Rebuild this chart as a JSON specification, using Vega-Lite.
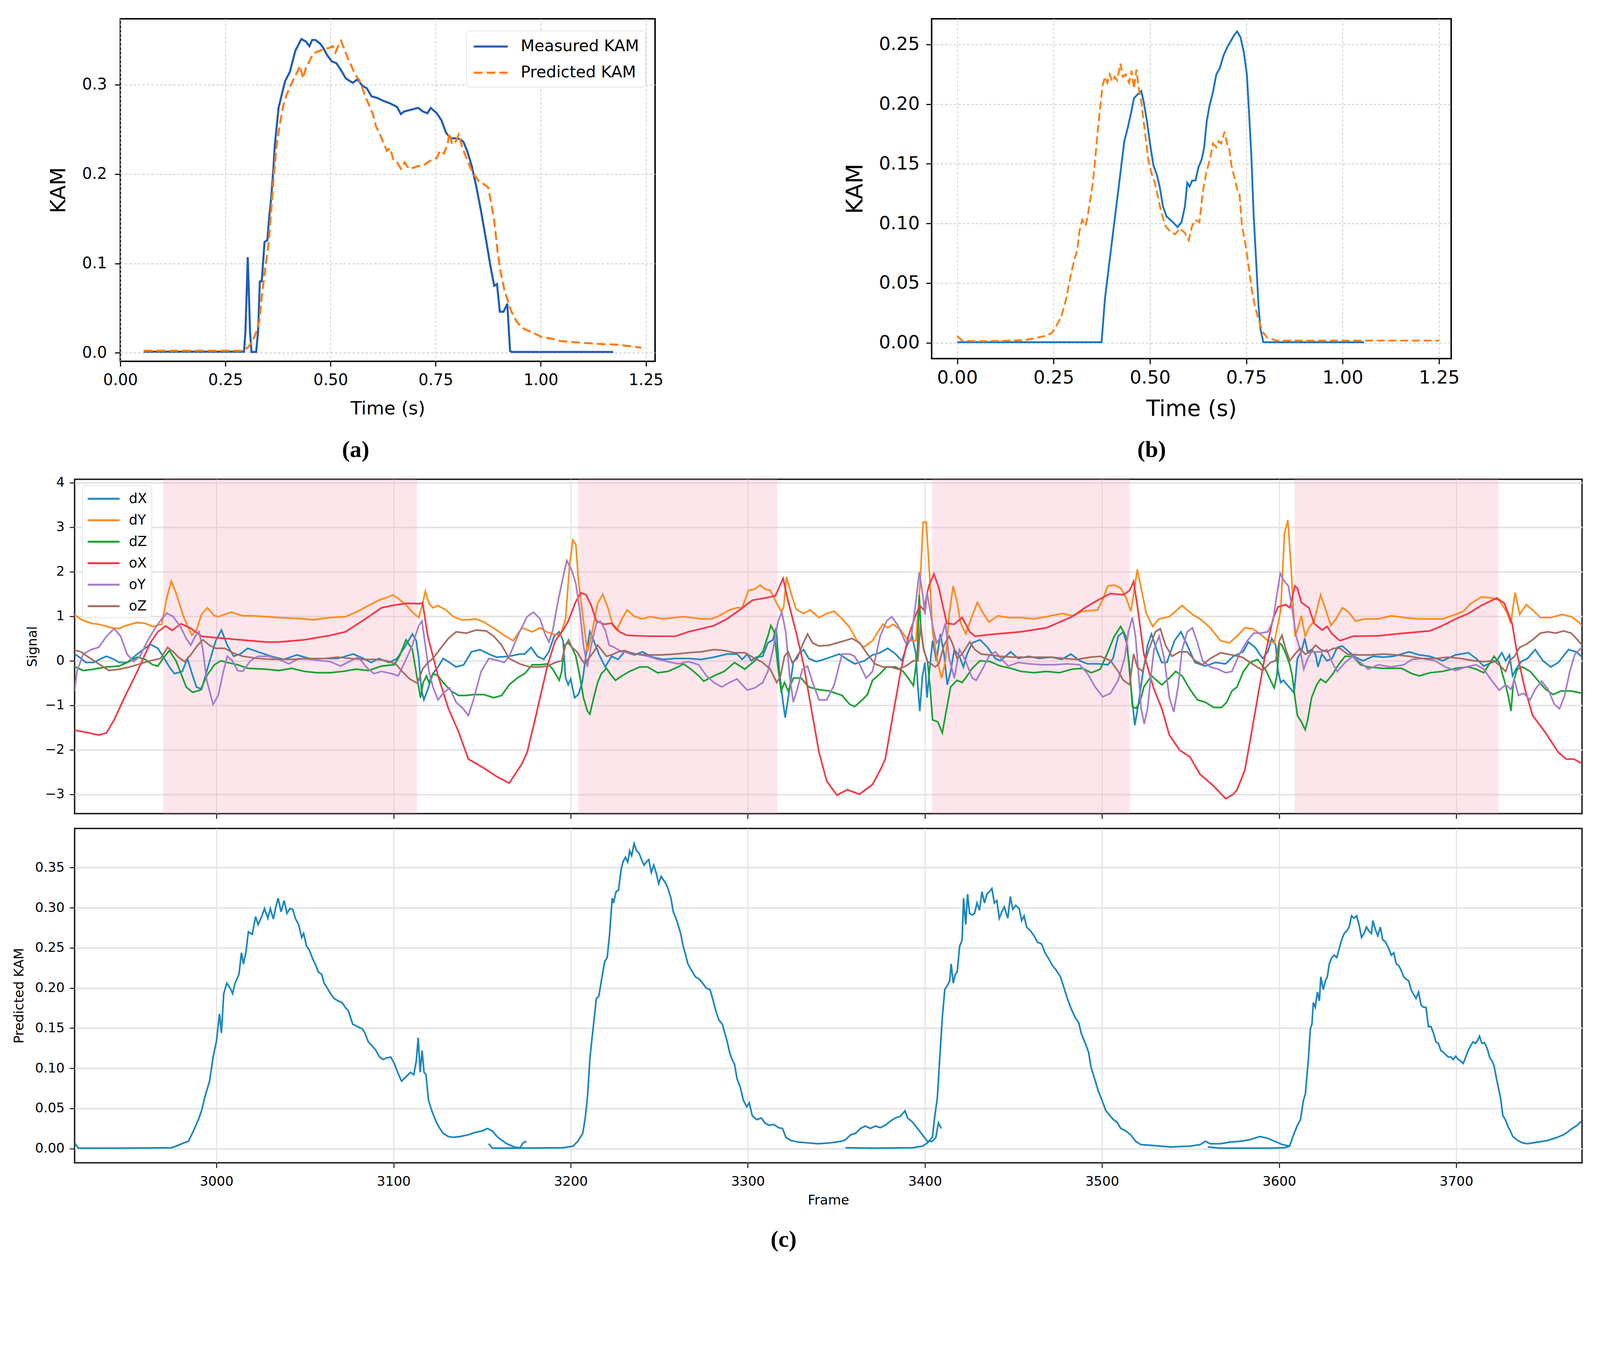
{
  "$schema": "https://vega.github.io/schema/vega-lite/v6.json",
  "background": "white",
  "padding": {"left": 30, "top": 46, "right": 5, "bottom": 5},
  "config": {
    "font": "DejaVu Sans",
    "view": {"stroke": "black", "strokeWidth": 3.75},
    "axis": {"domain": false, "labelColor": "black", "titleColor": "black", "tickColor": "black", "titleFontWeight": "normal", "labelFlush": false, "labelOverlap": false, "labelBound": false, "labelFont": "DejaVu Sans", "titleFont": "DejaVu Sans"},
    "title": {"font": "Liberation Serif", "fontSize": 60, "fontWeight": "bold", "color": "black"}
  },
  "datasets": {
    "a": [
      {"t":0.0555,"k":0.0014,"s":"Measured KAM"},{"t":0.2942,"k":0.0014,"s":"Measured KAM"},{"t":0.2975,"k":0.023,"s":"Measured KAM"},{"t":0.3031,"k":0.107,"s":"Measured KAM"},{"t":0.3086,"k":0.023,"s":"Measured KAM"},{"t":0.3119,"k":0.001,"s":"Measured KAM"},{"t":0.323,"k":0.001,"s":"Measured KAM"},{"t":0.3275,"k":0.023,"s":"Measured KAM"},{"t":0.3319,"k":0.08,"s":"Measured KAM"},{"t":0.3364,"k":0.08,"s":"Measured KAM"},{"t":0.343,"k":0.124,"s":"Measured KAM"},{"t":0.3497,"k":0.126,"s":"Measured KAM"},{"t":0.3541,"k":0.152,"s":"Measured KAM"},{"t":0.3586,"k":0.172,"s":"Measured KAM"},{"t":0.3641,"k":0.206,"s":"Measured KAM"},{"t":0.3675,"k":0.233,"s":"Measured KAM"},{"t":0.3719,"k":0.253,"s":"Measured KAM"},{"t":0.3763,"k":0.274,"s":"Measured KAM"},{"t":0.383,"k":0.287,"s":"Measured KAM"},{"t":0.3919,"k":0.304,"s":"Measured KAM"},{"t":0.403,"k":0.314,"s":"Measured KAM"},{"t":0.4163,"k":0.338,"s":"Measured KAM"},{"t":0.4307,"k":0.351,"s":"Measured KAM"},{"t":0.4418,"k":0.348,"s":"Measured KAM"},{"t":0.4496,"k":0.343,"s":"Measured KAM"},{"t":0.4563,"k":0.35,"s":"Measured KAM"},{"t":0.464,"k":0.35,"s":"Measured KAM"},{"t":0.4751,"k":0.346,"s":"Measured KAM"},{"t":0.4829,"k":0.341,"s":"Measured KAM"},{"t":0.4918,"k":0.333,"s":"Measured KAM"},{"t":0.5029,"k":0.326,"s":"Measured KAM"},{"t":0.514,"k":0.324,"s":"Measured KAM"},{"t":0.5251,"k":0.316,"s":"Measured KAM"},{"t":0.5362,"k":0.307,"s":"Measured KAM"},{"t":0.5528,"k":0.302,"s":"Measured KAM"},{"t":0.5639,"k":0.306,"s":"Measured KAM"},{"t":0.575,"k":0.299,"s":"Measured KAM"},{"t":0.5861,"k":0.296,"s":"Measured KAM"},{"t":0.5973,"k":0.287,"s":"Measured KAM"},{"t":0.6117,"k":0.285,"s":"Measured KAM"},{"t":0.625,"k":0.282,"s":"Measured KAM"},{"t":0.6417,"k":0.279,"s":"Measured KAM"},{"t":0.6583,"k":0.275,"s":"Measured KAM"},{"t":0.6672,"k":0.267,"s":"Measured KAM"},{"t":0.675,"k":0.27,"s":"Measured KAM"},{"t":0.6916,"k":0.272,"s":"Measured KAM"},{"t":0.7083,"k":0.274,"s":"Measured KAM"},{"t":0.7194,"k":0.27,"s":"Measured KAM"},{"t":0.7305,"k":0.268,"s":"Measured KAM"},{"t":0.7382,"k":0.274,"s":"Measured KAM"},{"t":0.7527,"k":0.268,"s":"Measured KAM"},{"t":0.7638,"k":0.26,"s":"Measured KAM"},{"t":0.7749,"k":0.246,"s":"Measured KAM"},{"t":0.786,"k":0.24,"s":"Measured KAM"},{"t":0.7971,"k":0.24,"s":"Measured KAM"},{"t":0.8082,"k":0.239,"s":"Measured KAM"},{"t":0.816,"k":0.236,"s":"Measured KAM"},{"t":0.8248,"k":0.226,"s":"Measured KAM"},{"t":0.8359,"k":0.209,"s":"Measured KAM"},{"t":0.847,"k":0.185,"s":"Measured KAM"},{"t":0.8581,"k":0.158,"s":"Measured KAM"},{"t":0.8692,"k":0.128,"s":"Measured KAM"},{"t":0.8803,"k":0.097,"s":"Measured KAM"},{"t":0.8892,"k":0.075,"s":"Measured KAM"},{"t":0.8959,"k":0.077,"s":"Measured KAM"},{"t":0.9025,"k":0.046,"s":"Measured KAM"},{"t":0.9114,"k":0.046,"s":"Measured KAM"},{"t":0.9203,"k":0.055,"s":"Measured KAM"},{"t":0.927,"k":0.002,"s":"Measured KAM"},{"t":0.9314,"k":0.001,"s":"Measured KAM"},{"t":1.1723,"k":0.001,"s":"Measured KAM"},
      {"t":0.0555,"k":0.0024,"s":"Predicted KAM"},{"t":0.292,"k":0.0024,"s":"Predicted KAM"},{"t":0.3031,"k":0.006,"s":"Predicted KAM"},{"t":0.3142,"k":0.0125,"s":"Predicted KAM"},{"t":0.323,"k":0.023,"s":"Predicted KAM"},{"t":0.3308,"k":0.036,"s":"Predicted KAM"},{"t":0.3364,"k":0.063,"s":"Predicted KAM"},{"t":0.3453,"k":0.097,"s":"Predicted KAM"},{"t":0.353,"k":0.124,"s":"Predicted KAM"},{"t":0.3586,"k":0.158,"s":"Predicted KAM"},{"t":0.3652,"k":0.199,"s":"Predicted KAM"},{"t":0.3719,"k":0.233,"s":"Predicted KAM"},{"t":0.3786,"k":0.253,"s":"Predicted KAM"},{"t":0.3863,"k":0.274,"s":"Predicted KAM"},{"t":0.3941,"k":0.287,"s":"Predicted KAM"},{"t":0.403,"k":0.297,"s":"Predicted KAM"},{"t":0.4119,"k":0.306,"s":"Predicted KAM"},{"t":0.4196,"k":0.313,"s":"Predicted KAM"},{"t":0.4274,"k":0.321,"s":"Predicted KAM"},{"t":0.4341,"k":0.307,"s":"Predicted KAM"},{"t":0.4418,"k":0.319,"s":"Predicted KAM"},{"t":0.4496,"k":0.326,"s":"Predicted KAM"},{"t":0.4563,"k":0.333,"s":"Predicted KAM"},{"t":0.464,"k":0.336,"s":"Predicted KAM"},{"t":0.4751,"k":0.338,"s":"Predicted KAM"},{"t":0.4862,"k":0.34,"s":"Predicted KAM"},{"t":0.4973,"k":0.341,"s":"Predicted KAM"},{"t":0.5051,"k":0.343,"s":"Predicted KAM"},{"t":0.5118,"k":0.336,"s":"Predicted KAM"},{"t":0.5195,"k":0.345,"s":"Predicted KAM"},{"t":0.5251,"k":0.349,"s":"Predicted KAM"},{"t":0.534,"k":0.338,"s":"Predicted KAM"},{"t":0.5417,"k":0.329,"s":"Predicted KAM"},{"t":0.5495,"k":0.321,"s":"Predicted KAM"},{"t":0.5584,"k":0.311,"s":"Predicted KAM"},{"t":0.5673,"k":0.306,"s":"Predicted KAM"},{"t":0.575,"k":0.297,"s":"Predicted KAM"},{"t":0.5828,"k":0.287,"s":"Predicted KAM"},{"t":0.5917,"k":0.277,"s":"Predicted KAM"},{"t":0.6006,"k":0.267,"s":"Predicted KAM"},{"t":0.6083,"k":0.253,"s":"Predicted KAM"},{"t":0.6161,"k":0.246,"s":"Predicted KAM"},{"t":0.625,"k":0.236,"s":"Predicted KAM"},{"t":0.6339,"k":0.226,"s":"Predicted KAM"},{"t":0.6417,"k":0.229,"s":"Predicted KAM"},{"t":0.6494,"k":0.216,"s":"Predicted KAM"},{"t":0.6583,"k":0.213,"s":"Predicted KAM"},{"t":0.6672,"k":0.206,"s":"Predicted KAM"},{"t":0.6761,"k":0.213,"s":"Predicted KAM"},{"t":0.6861,"k":0.206,"s":"Predicted KAM"},{"t":0.6972,"k":0.207,"s":"Predicted KAM"},{"t":0.7083,"k":0.209,"s":"Predicted KAM"},{"t":0.7194,"k":0.209,"s":"Predicted KAM"},{"t":0.7305,"k":0.213,"s":"Predicted KAM"},{"t":0.7416,"k":0.216,"s":"Predicted KAM"},{"t":0.7527,"k":0.218,"s":"Predicted KAM"},{"t":0.7604,"k":0.226,"s":"Predicted KAM"},{"t":0.7693,"k":0.223,"s":"Predicted KAM"},{"t":0.7782,"k":0.233,"s":"Predicted KAM"},{"t":0.7826,"k":0.246,"s":"Predicted KAM"},{"t":0.7893,"k":0.233,"s":"Predicted KAM"},{"t":0.7971,"k":0.236,"s":"Predicted KAM"},{"t":0.8049,"k":0.244,"s":"Predicted KAM"},{"t":0.8137,"k":0.229,"s":"Predicted KAM"},{"t":0.8248,"k":0.216,"s":"Predicted KAM"},{"t":0.8337,"k":0.206,"s":"Predicted KAM"},{"t":0.8415,"k":0.199,"s":"Predicted KAM"},{"t":0.8526,"k":0.192,"s":"Predicted KAM"},{"t":0.8637,"k":0.189,"s":"Predicted KAM"},{"t":0.8748,"k":0.185,"s":"Predicted KAM"},{"t":0.8803,"k":0.172,"s":"Predicted KAM"},{"t":0.8892,"k":0.148,"s":"Predicted KAM"},{"t":0.897,"k":0.114,"s":"Predicted KAM"},{"t":0.9047,"k":0.09,"s":"Predicted KAM"},{"t":0.9136,"k":0.07,"s":"Predicted KAM"},{"t":0.9225,"k":0.057,"s":"Predicted KAM"},{"t":0.9303,"k":0.046,"s":"Predicted KAM"},{"t":0.9414,"k":0.036,"s":"Predicted KAM"},{"t":0.9525,"k":0.029,"s":"Predicted KAM"},{"t":0.9636,"k":0.026,"s":"Predicted KAM"},{"t":0.9803,"k":0.023,"s":"Predicted KAM"},{"t":1.0024,"k":0.0176,"s":"Predicted KAM"},{"t":1.0246,"k":0.016,"s":"Predicted KAM"},{"t":1.0468,"k":0.0132,"s":"Predicted KAM"},{"t":1.0801,"k":0.0119,"s":"Predicted KAM"},{"t":1.1135,"k":0.0108,"s":"Predicted KAM"},{"t":1.1468,"k":0.0098,"s":"Predicted KAM"},{"t":1.1801,"k":0.0092,"s":"Predicted KAM"},{"t":1.2134,"k":0.0075,"s":"Predicted KAM"},{"t":1.2389,"k":0.0058,"s":"Predicted KAM"}
    ],
    "b": [
      {"t":0,"k":0.0005,"s":"Measured KAM"},{"t":0.3744,"k":0.0005,"s":"Measured KAM"},{"t":0.3832,"k":0.037,"s":"Measured KAM"},{"t":0.3957,"k":0.07,"s":"Measured KAM"},{"t":0.4083,"k":0.103,"s":"Measured KAM"},{"t":0.4209,"k":0.136,"s":"Measured KAM"},{"t":0.4334,"k":0.169,"s":"Measured KAM"},{"t":0.4422,"k":0.18,"s":"Measured KAM"},{"t":0.4523,"k":0.195,"s":"Measured KAM"},{"t":0.4585,"k":0.205,"s":"Measured KAM"},{"t":0.4673,"k":0.208,"s":"Measured KAM"},{"t":0.4774,"k":0.211,"s":"Measured KAM"},{"t":0.4837,"k":0.202,"s":"Measured KAM"},{"t":0.4925,"k":0.185,"s":"Measured KAM"},{"t":0.5,"k":0.167,"s":"Measured KAM"},{"t":0.5088,"k":0.149,"s":"Measured KAM"},{"t":0.5176,"k":0.141,"s":"Measured KAM"},{"t":0.5251,"k":0.131,"s":"Measured KAM"},{"t":0.5339,"k":0.114,"s":"Measured KAM"},{"t":0.5427,"k":0.106,"s":"Measured KAM"},{"t":0.5528,"k":0.103,"s":"Measured KAM"},{"t":0.5628,"k":0.1,"s":"Measured KAM"},{"t":0.5716,"k":0.097,"s":"Measured KAM"},{"t":0.5817,"k":0.101,"s":"Measured KAM"},{"t":0.5905,"k":0.114,"s":"Measured KAM"},{"t":0.5967,"k":0.134,"s":"Measured KAM"},{"t":0.603,"k":0.131,"s":"Measured KAM"},{"t":0.6093,"k":0.136,"s":"Measured KAM"},{"t":0.6181,"k":0.136,"s":"Measured KAM"},{"t":0.6256,"k":0.147,"s":"Measured KAM"},{"t":0.6344,"k":0.154,"s":"Measured KAM"},{"t":0.6407,"k":0.164,"s":"Measured KAM"},{"t":0.647,"k":0.185,"s":"Measured KAM"},{"t":0.6533,"k":0.197,"s":"Measured KAM"},{"t":0.6633,"k":0.21,"s":"Measured KAM"},{"t":0.6721,"k":0.225,"s":"Measured KAM"},{"t":0.6809,"k":0.23,"s":"Measured KAM"},{"t":0.691,"k":0.241,"s":"Measured KAM"},{"t":0.701,"k":0.248,"s":"Measured KAM"},{"t":0.7098,"k":0.253,"s":"Measured KAM"},{"t":0.7186,"k":0.258,"s":"Measured KAM"},{"t":0.7261,"k":0.261,"s":"Measured KAM"},{"t":0.7349,"k":0.256,"s":"Measured KAM"},{"t":0.7437,"k":0.243,"s":"Measured KAM"},{"t":0.7513,"k":0.225,"s":"Measured KAM"},{"t":0.7563,"k":0.197,"s":"Measured KAM"},{"t":0.7626,"k":0.159,"s":"Measured KAM"},{"t":0.7688,"k":0.108,"s":"Measured KAM"},{"t":0.7751,"k":0.07,"s":"Measured KAM"},{"t":0.7814,"k":0.032,"s":"Measured KAM"},{"t":0.7864,"k":0.012,"s":"Measured KAM"},{"t":0.794,"k":0.0005,"s":"Measured KAM"},{"t":1.0553,"k":0.0005,"s":"Measured KAM"},
      {"t":0,"k":0.0056,"s":"Predicted KAM"},{"t":0.0126,"k":0.0018,"s":"Predicted KAM"},{"t":0.0503,"k":0.0013,"s":"Predicted KAM"},{"t":0.1382,"k":0.0018,"s":"Predicted KAM"},{"t":0.1759,"k":0.0023,"s":"Predicted KAM"},{"t":0.201,"k":0.0038,"s":"Predicted KAM"},{"t":0.2261,"k":0.0056,"s":"Predicted KAM"},{"t":0.245,"k":0.008,"s":"Predicted KAM"},{"t":0.2575,"k":0.0145,"s":"Predicted KAM"},{"t":0.2701,"k":0.022,"s":"Predicted KAM"},{"t":0.2827,"k":0.037,"s":"Predicted KAM"},{"t":0.2952,"k":0.058,"s":"Predicted KAM"},{"t":0.304,"k":0.07,"s":"Predicted KAM"},{"t":0.3116,"k":0.078,"s":"Predicted KAM"},{"t":0.3166,"k":0.093,"s":"Predicted KAM"},{"t":0.3241,"k":0.103,"s":"Predicted KAM"},{"t":0.3329,"k":0.098,"s":"Predicted KAM"},{"t":0.3392,"k":0.108,"s":"Predicted KAM"},{"t":0.3455,"k":0.121,"s":"Predicted KAM"},{"t":0.3518,"k":0.134,"s":"Predicted KAM"},{"t":0.358,"k":0.154,"s":"Predicted KAM"},{"t":0.3643,"k":0.177,"s":"Predicted KAM"},{"t":0.3706,"k":0.197,"s":"Predicted KAM"},{"t":0.3769,"k":0.215,"s":"Predicted KAM"},{"t":0.3832,"k":0.223,"s":"Predicted KAM"},{"t":0.3894,"k":0.218,"s":"Predicted KAM"},{"t":0.3957,"k":0.225,"s":"Predicted KAM"},{"t":0.402,"k":0.219,"s":"Predicted KAM"},{"t":0.4083,"k":0.223,"s":"Predicted KAM"},{"t":0.4146,"k":0.22,"s":"Predicted KAM"},{"t":0.4234,"k":0.234,"s":"Predicted KAM"},{"t":0.4296,"k":0.223,"s":"Predicted KAM"},{"t":0.4372,"k":0.225,"s":"Predicted KAM"},{"t":0.446,"k":0.218,"s":"Predicted KAM"},{"t":0.4523,"k":0.228,"s":"Predicted KAM"},{"t":0.4585,"k":0.213,"s":"Predicted KAM"},{"t":0.4648,"k":0.229,"s":"Predicted KAM"},{"t":0.4711,"k":0.213,"s":"Predicted KAM"},{"t":0.4774,"k":0.202,"s":"Predicted KAM"},{"t":0.4837,"k":0.185,"s":"Predicted KAM"},{"t":0.4899,"k":0.169,"s":"Predicted KAM"},{"t":0.4962,"k":0.152,"s":"Predicted KAM"},{"t":0.505,"k":0.141,"s":"Predicted KAM"},{"t":0.5126,"k":0.134,"s":"Predicted KAM"},{"t":0.5214,"k":0.121,"s":"Predicted KAM"},{"t":0.5302,"k":0.108,"s":"Predicted KAM"},{"t":0.5402,"k":0.098,"s":"Predicted KAM"},{"t":0.5528,"k":0.093,"s":"Predicted KAM"},{"t":0.5653,"k":0.091,"s":"Predicted KAM"},{"t":0.5779,"k":0.096,"s":"Predicted KAM"},{"t":0.5905,"k":0.092,"s":"Predicted KAM"},{"t":0.6005,"k":0.086,"s":"Predicted KAM"},{"t":0.6093,"k":0.098,"s":"Predicted KAM"},{"t":0.6181,"k":0.103,"s":"Predicted KAM"},{"t":0.6281,"k":0.101,"s":"Predicted KAM"},{"t":0.6382,"k":0.129,"s":"Predicted KAM"},{"t":0.647,"k":0.144,"s":"Predicted KAM"},{"t":0.6558,"k":0.154,"s":"Predicted KAM"},{"t":0.6633,"k":0.167,"s":"Predicted KAM"},{"t":0.6721,"k":0.164,"s":"Predicted KAM"},{"t":0.6784,"k":0.169,"s":"Predicted KAM"},{"t":0.6847,"k":0.167,"s":"Predicted KAM"},{"t":0.6935,"k":0.177,"s":"Predicted KAM"},{"t":0.6997,"k":0.167,"s":"Predicted KAM"},{"t":0.706,"k":0.162,"s":"Predicted KAM"},{"t":0.7111,"k":0.149,"s":"Predicted KAM"},{"t":0.7186,"k":0.139,"s":"Predicted KAM"},{"t":0.7261,"k":0.129,"s":"Predicted KAM"},{"t":0.7324,"k":0.124,"s":"Predicted KAM"},{"t":0.7387,"k":0.098,"s":"Predicted KAM"},{"t":0.7475,"k":0.083,"s":"Predicted KAM"},{"t":0.7563,"k":0.063,"s":"Predicted KAM"},{"t":0.7638,"k":0.045,"s":"Predicted KAM"},{"t":0.7726,"k":0.03,"s":"Predicted KAM"},{"t":0.7814,"k":0.0196,"s":"Predicted KAM"},{"t":0.7915,"k":0.0094,"s":"Predicted KAM"},{"t":0.804,"k":0.0043,"s":"Predicted KAM"},{"t":0.8291,"k":0.0018,"s":"Predicted KAM"},{"t":1.25,"k":0.0018,"s":"Predicted KAM"}
    ],
    "bands": [{"b0":2970,"b1":3113.1},{"b0":3204.3,"b1":3316.6},{"b0":3403.9,"b1":3515.6},{"b0":3608.7,"b1":3723.8}],
    "sig": [
      {"s":"dX","f":2919.9,"v":0.15},{"s":"dX","f":2921.9,"v":0.10},{"s":"dX","f":2926.3,"v":-0.04},{"s":"dX","f":2930.6,"v":-0.04},{"s":"dX","f":2935,"v":0.05},{"s":"dX","f":2937.9,"v":0.10},{"s":"dX","f":2942.2,"v":0.03},{"s":"dX","f":2945.1,"v":-0.04},{"s":"dX","f":2949.5,"v":-0.04},{"s":"dX","f":2955.3,"v":0.15},{"s":"dX","f":2962.6,"v":0.37},{"s":"dX","f":2966.9,"v":0.28},{"s":"dX","f":2969.8,"v":0.10},{"s":"dX","f":2973.4,"v":-0.14},{"s":"dX","f":2976.3,"v":-0.29},{"s":"dX","f":2980.7,"v":-0.24},{"s":"dX","f":2983.6,"v":0.05},{"s":"dX","f":2985.8,"v":-0.24},{"s":"dX","f":2988.7,"v":-0.59},{"s":"dX","f":2991.6,"v":-0.64},{"s":"dX","f":2995.2,"v":-0.14},{"s":"dX","f":2999.6,"v":0.45},{"s":"dX","f":3002.8,"v":0.69},{"s":"dX","f":3006.1,"v":0.35},{"s":"dX","f":3009.7,"v":0.10},{"s":"dX","f":3013.4,"v":0.15},{"s":"dX","f":3017.7,"v":0.28},{"s":"dX","f":3023.5,"v":0.20},{"s":"dX","f":3030.8,"v":0.10},{"s":"dX","f":3038,"v":0.03},{"s":"dX","f":3045.3,"v":0.13},{"s":"dX","f":3052.5,"v":0.05},{"s":"dX","f":3059.8,"v":0.05},{"s":"dX","f":3068.5,"v":0.05},{"s":"dX","f":3077.2,"v":0.15},{"s":"dX","f":3083,"v":0.05},{"s":"dX","f":3087.4,"v":-0.04},{"s":"dX","f":3091.7,"v":0.05},{"s":"dX","f":3097.5,"v":-0.04},{"s":"dX","f":3101.9,"v":0.05},{"s":"dX","f":3106.2,"v":0.30},{"s":"dX","f":3110.6,"v":0.60},{"s":"dX","f":3112.8,"v":0.45},{"s":"dX","f":3114.2,"v":0.05},{"s":"dX","f":3115.7,"v":-0.64},{"s":"dX","f":3117.1,"v":-0.88},{"s":"dX","f":3119.3,"v":-0.64},{"s":"dX","f":3122.2,"v":-0.29},{"s":"dX","f":3125.1,"v":-0.14},{"s":"dX","f":3128,"v":0.05},{"s":"dX","f":3131.6,"v":-0.04},{"s":"dX","f":3135.3,"v":-0.14},{"s":"dX","f":3139.6,"v":-0.09},{"s":"dX","f":3144,"v":0.20},{"s":"dX","f":3148.7,"v":0.25},{"s":"dX","f":3153.8,"v":0.15},{"s":"dX","f":3158.1,"v":0.08},{"s":"dX","f":3165.3,"v":0.10},{"s":"dX","f":3171.1,"v":0.15},{"s":"dX","f":3174,"v":0.15},{"s":"dX","f":3177.6,"v":0.30},{"s":"dX","f":3181.2,"v":0.10},{"s":"dX","f":3184.8,"v":0.03},{"s":"dX","f":3187.7,"v":0.20},{"s":"dX","f":3190.6,"v":0.55},{"s":"dX","f":3193.5,"v":0.65},{"s":"dX","f":3195.7,"v":0.45},{"s":"dX","f":3197.1,"v":-0.39},{"s":"dX","f":3198.6,"v":-0.54},{"s":"dX","f":3200,"v":-0.41},{"s":"dX","f":3202.2,"v":-0.83},{"s":"dX","f":3204.3,"v":-0.76},{"s":"dX","f":3206.5,"v":-0.49},{"s":"dX","f":3208.7,"v":0.15},{"s":"dX","f":3210.8,"v":0.65},{"s":"dX","f":3213,"v":0.45},{"s":"dX","f":3215.9,"v":0.15},{"s":"dX","f":3219.5,"v":-0.14},{"s":"dX","f":3223.1,"v":0.10},{"s":"dX","f":3226.7,"v":0.03},{"s":"dX","f":3230.3,"v":0.20},{"s":"dX","f":3236.1,"v":0.13},{"s":"dX","f":3240.5,"v":0.20},{"s":"dX","f":3246.2,"v":0.08},{"s":"dX","f":3252,"v":0.03},{"s":"dX","f":3259.2,"v":0.05},{"s":"dX","f":3266.5,"v":0.05},{"s":"dX","f":3273.7,"v":0.03},{"s":"dX","f":3280.9,"v":0.08},{"s":"dX","f":3288.2,"v":0.15},{"s":"dX","f":3293.9,"v":0.15},{"s":"dX","f":3296.8,"v":0.03},{"s":"dX","f":3299.7,"v":0.15},{"s":"dX","f":3301.9,"v":0.0},{"s":"dX","f":3304.8,"v":0.08},{"s":"dX","f":3308.4,"v":0.10},{"s":"dX","f":3311.3,"v":0.40},{"s":"dX","f":3314.2,"v":0.47},{"s":"dX","f":3316,"v":0.74},{"s":"dX","f":3317.8,"v":-0.24},{"s":"dX","f":3319.7,"v":-0.88},{"s":"dX","f":3321.1,"v":-1.28},{"s":"dX","f":3322.8,"v":-0.83},{"s":"dX","f":3325.7,"v":-0.04},{"s":"dX","f":3328.6,"v":0.15},{"s":"dX","f":3331.5,"v":0.25},{"s":"dX","f":3334.4,"v":0.05},{"s":"dX","f":3338.7,"v":-0.02},{"s":"dX","f":3344.5,"v":0.05},{"s":"dX","f":3351.7,"v":0.15},{"s":"dX","f":3356.1,"v":0.03},{"s":"dX","f":3360.4,"v":-0.07},{"s":"dX","f":3366,"v":0.0},{"s":"dX","f":3370.4,"v":0.13},{"s":"dX","f":3374.7,"v":0.18},{"s":"dX","f":3379,"v":0.28},{"s":"dX","f":3383.4,"v":0.15},{"s":"dX","f":3387,"v":0.0},{"s":"dX","f":3389.9,"v":0.35},{"s":"dX","f":3392.8,"v":0.55},{"s":"dX","f":3394.9,"v":0.15},{"s":"dX","f":3396,"v":-0.59},{"s":"dX","f":3397.1,"v":-1.13},{"s":"dX","f":3398.6,"v":-0.34},{"s":"dX","f":3400,"v":-0.04},{"s":"dX","f":3401.2,"v":-0.83},{"s":"dX","f":3402.9,"v":-0.09},{"s":"dX","f":3404.3,"v":0.45},{"s":"dX","f":3406.5,"v":0.0},{"s":"dX","f":3408.7,"v":0.60},{"s":"dX","f":3410.8,"v":0.15},{"s":"dX","f":3412.6,"v":-0.54},{"s":"dX","f":3414.5,"v":-0.24},{"s":"dX","f":3416.6,"v":0.25},{"s":"dX","f":3419.5,"v":0.10},{"s":"dX","f":3421.7,"v":-0.14},{"s":"dX","f":3423.8,"v":0.15},{"s":"dX","f":3426.7,"v":0.40},{"s":"dX","f":3431.1,"v":0.47},{"s":"dX","f":3435.4,"v":0.30},{"s":"dX","f":3439.7,"v":0.05},{"s":"dX","f":3442.6,"v":0.0},{"s":"dX","f":3448.4,"v":0.20},{"s":"dX","f":3452.7,"v":0.05},{"s":"dX","f":3458.5,"v":0.10},{"s":"dX","f":3464.3,"v":0.05},{"s":"dX","f":3471.5,"v":0.08},{"s":"dX","f":3477.3,"v":0.03},{"s":"dX","f":3482.4,"v":0.15},{"s":"dX","f":3487.4,"v":0.0},{"s":"dX","f":3491.8,"v":-0.07},{"s":"dX","f":3497.5,"v":-0.07},{"s":"dX","f":3503.3,"v":-0.09},{"s":"dX","f":3506.2,"v":0.05},{"s":"dX","f":3509.1,"v":0.55},{"s":"dX","f":3512,"v":0.65},{"s":"dX","f":3514.2,"v":0.35},{"s":"dX","f":3516.3,"v":-0.59},{"s":"dX","f":3518.5,"v":-1.45},{"s":"dX","f":3520.7,"v":-0.93},{"s":"dX","f":3522.8,"v":-0.34},{"s":"dX","f":3525.7,"v":0.35},{"s":"dX","f":3527.9,"v":0.60},{"s":"dX","f":3530.8,"v":0.25},{"s":"dX","f":3533.7,"v":-0.04},{"s":"dX","f":3536.6,"v":-0.04},{"s":"dX","f":3540.9,"v":0.45},{"s":"dX","f":3544.5,"v":0.65},{"s":"dX","f":3548.1,"v":0.35},{"s":"dX","f":3552.5,"v":-0.04},{"s":"dX","f":3558.2,"v":-0.12},{"s":"dX","f":3564,"v":-0.04},{"s":"dX","f":3569.8,"v":-0.07},{"s":"dX","f":3574.1,"v":0.10},{"s":"dX","f":3579.6,"v":0.20},{"s":"dX","f":3582.7,"v":0.42},{"s":"dX","f":3586.4,"v":0.30},{"s":"dX","f":3590.7,"v":0.05},{"s":"dX","f":3593.6,"v":0.20},{"s":"dX","f":3595.8,"v":0.50},{"s":"dX","f":3598,"v":0.35},{"s":"dX","f":3599.4,"v":-0.24},{"s":"dX","f":3600.9,"v":-0.49},{"s":"dX","f":3602.3,"v":-0.44},{"s":"dX","f":3604.5,"v":-0.54},{"s":"dX","f":3606.7,"v":-0.64},{"s":"dX","f":3608.4,"v":-0.73},{"s":"dX","f":3610.3,"v":0.05},{"s":"dX","f":3612.5,"v":0.20},{"s":"dX","f":3614.4,"v":0.50},{"s":"dX","f":3616.1,"v":0.20},{"s":"dX","f":3618.3,"v":0.25},{"s":"dX","f":3620.5,"v":0.15},{"s":"dX","f":3621.9,"v":-0.14},{"s":"dX","f":3624.1,"v":0.15},{"s":"dX","f":3627,"v":0.0},{"s":"dX","f":3629.9,"v":0.05},{"s":"dX","f":3632.8,"v":0.30},{"s":"dX","f":3635.7,"v":0.33},{"s":"dX","f":3638.6,"v":0.23},{"s":"dX","f":3643,"v":0.08},{"s":"dX","f":3647.3,"v":0.0},{"s":"dX","f":3653.1,"v":0.10},{"s":"dX","f":3658.9,"v":0.08},{"s":"dX","f":3664.7,"v":0.10},{"s":"dX","f":3673.4,"v":0.20},{"s":"dX","f":3679.2,"v":0.13},{"s":"dX","f":3685,"v":0.10},{"s":"dX","f":3692.3,"v":0.0},{"s":"dX","f":3699.6,"v":0.13},{"s":"dX","f":3706.8,"v":0.18},{"s":"dX","f":3711.2,"v":0.05},{"s":"dX","f":3715.5,"v":-0.12},{"s":"dX","f":3719.9,"v":-0.04},{"s":"dX","f":3722.8,"v":0.0},{"s":"dX","f":3725.7,"v":0.18},{"s":"dX","f":3727.9,"v":0.0},{"s":"dX","f":3730,"v":0.13},{"s":"dX","f":3731.8,"v":-0.34},{"s":"dX","f":3733.7,"v":-0.19},{"s":"dX","f":3736.6,"v":-0.02},{"s":"dX","f":3740.2,"v":0.05},{"s":"dX","f":3744.6,"v":0.25},{"s":"dX","f":3748.9,"v":0.0},{"s":"dX","f":3753.3,"v":-0.14},{"s":"dX","f":3757.6,"v":-0.04},{"s":"dX","f":3763.4,"v":0.25},{"s":"dX","f":3767.8,"v":0.20},{"s":"dX","f":3771,"v":0.08},
      {"s":"dY","f":2919,"v":1.06},{"s":"dY","f":2923.4,"v":0.93},{"s":"dY","f":2929.2,"v":0.84},{"s":"dY","f":2933.5,"v":0.82},{"s":"dY","f":2940.8,"v":0.74},{"s":"dY","f":2945.1,"v":0.72},{"s":"dY","f":2948,"v":0.78},{"s":"dY","f":2955.3,"v":0.86},{"s":"dY","f":2959.7,"v":0.84},{"s":"dY","f":2964,"v":0.77},{"s":"dY","f":2969.1,"v":0.82},{"s":"dY","f":2972,"v":1.43},{"s":"dY","f":2974.5,"v":1.79},{"s":"dY","f":2977.1,"v":1.53},{"s":"dY","f":2981.4,"v":0.99},{"s":"dY","f":2986.1,"v":0.57},{"s":"dY","f":2988.7,"v":0.69},{"s":"dY","f":2991.6,"v":1.04},{"s":"dY","f":2994.8,"v":1.19},{"s":"dY","f":2998.8,"v":1.01},{"s":"dY","f":3001,"v":0.99},{"s":"dY","f":3008.3,"v":1.09},{"s":"dY","f":3014.8,"v":1.01},{"s":"dY","f":3020.6,"v":1.01},{"s":"dY","f":3035.1,"v":0.97},{"s":"dY","f":3049.6,"v":0.94},{"s":"dY","f":3054.7,"v":0.92},{"s":"dY","f":3064.2,"v":0.97},{"s":"dY","f":3072.9,"v":0.99},{"s":"dY","f":3078.7,"v":1.09},{"s":"dY","f":3085.9,"v":1.24},{"s":"dY","f":3091.7,"v":1.36},{"s":"dY","f":3095.4,"v":1.41},{"s":"dY","f":3099.7,"v":1.48},{"s":"dY","f":3106.2,"v":1.29},{"s":"dY","f":3110.6,"v":1.09},{"s":"dY","f":3114.2,"v":0.97},{"s":"dY","f":3116.1,"v":1.24},{"s":"dY","f":3117.9,"v":1.56},{"s":"dY","f":3120,"v":1.29},{"s":"dY","f":3122.2,"v":1.19},{"s":"dY","f":3125.1,"v":1.24},{"s":"dY","f":3129.5,"v":1.14},{"s":"dY","f":3133.8,"v":0.99},{"s":"dY","f":3138.2,"v":0.92},{"s":"dY","f":3142.2,"v":0.92},{"s":"dY","f":3146.5,"v":0.94},{"s":"dY","f":3150.9,"v":0.87},{"s":"dY","f":3158.1,"v":0.69},{"s":"dY","f":3162.4,"v":0.57},{"s":"dY","f":3167.5,"v":0.45},{"s":"dY","f":3172.5,"v":0.74},{"s":"dY","f":3178.3,"v":0.65},{"s":"dY","f":3182.7,"v":0.74},{"s":"dY","f":3186.3,"v":0.65},{"s":"dY","f":3189.9,"v":0.60},{"s":"dY","f":3194.2,"v":0.57},{"s":"dY","f":3197.1,"v":0.94},{"s":"dY","f":3199.3,"v":2.12},{"s":"dY","f":3201.2,"v":2.71},{"s":"dY","f":3202.9,"v":2.61},{"s":"dY","f":3204.3,"v":1.83},{"s":"dY","f":3207.2,"v":0.89},{"s":"dY","f":3209.4,"v":0.20},{"s":"dY","f":3211.6,"v":0.55},{"s":"dY","f":3215.2,"v":1.29},{"s":"dY","f":3218.1,"v":1.49},{"s":"dY","f":3221,"v":1.19},{"s":"dY","f":3223.8,"v":0.79},{"s":"dY","f":3226,"v":0.69},{"s":"dY","f":3228.9,"v":0.94},{"s":"dY","f":3231.8,"v":1.14},{"s":"dY","f":3236.1,"v":0.99},{"s":"dY","f":3240.5,"v":0.94},{"s":"dY","f":3244.8,"v":0.99},{"s":"dY","f":3252,"v":0.94},{"s":"dY","f":3263.6,"v":0.99},{"s":"dY","f":3273.7,"v":0.94},{"s":"dY","f":3279.5,"v":0.94},{"s":"dY","f":3283.8,"v":1.01},{"s":"dY","f":3289.6,"v":1.14},{"s":"dY","f":3293.9,"v":1.19},{"s":"dY","f":3296.8,"v":1.19},{"s":"dY","f":3300.4,"v":1.58},{"s":"dY","f":3304,"v":1.61},{"s":"dY","f":3306.9,"v":1.70},{"s":"dY","f":3309.8,"v":1.61},{"s":"dY","f":3312.7,"v":1.58},{"s":"dY","f":3316.3,"v":1.29},{"s":"dY","f":3318.8,"v":1.11},{"s":"dY","f":3320.2,"v":1.19},{"s":"dY","f":3321.8,"v":1.88},{"s":"dY","f":3324.3,"v":1.53},{"s":"dY","f":3327.2,"v":1.16},{"s":"dY","f":3331.5,"v":1.06},{"s":"dY","f":3335.1,"v":1.14},{"s":"dY","f":3340.2,"v":0.97},{"s":"dY","f":3344.5,"v":1.06},{"s":"dY","f":3348.8,"v":1.11},{"s":"dY","f":3353.2,"v":0.94},{"s":"dY","f":3357.5,"v":0.75},{"s":"dY","f":3361.7,"v":0.45},{"s":"dY","f":3365.3,"v":0.30},{"s":"dY","f":3370.4,"v":0.45},{"s":"dY","f":3376.2,"v":0.82},{"s":"dY","f":3379,"v":0.74},{"s":"dY","f":3381.9,"v":0.82},{"s":"dY","f":3386.3,"v":0.69},{"s":"dY","f":3390.6,"v":0.45},{"s":"dY","f":3394.9,"v":0.45},{"s":"dY","f":3397.1,"v":1.63},{"s":"dY","f":3399,"v":3.11},{"s":"dY","f":3400.7,"v":3.12},{"s":"dY","f":3402.5,"v":2.02},{"s":"dY","f":3404.3,"v":0.65},{"s":"dY","f":3407.2,"v":-0.04},{"s":"dY","f":3409.4,"v":-0.39},{"s":"dY","f":3411.6,"v":0.0},{"s":"dY","f":3413.7,"v":1.04},{"s":"dY","f":3415.9,"v":1.68},{"s":"dY","f":3418.1,"v":1.33},{"s":"dY","f":3420.2,"v":0.84},{"s":"dY","f":3423.1,"v":0.60},{"s":"dY","f":3426,"v":0.94},{"s":"dY","f":3429.6,"v":1.31},{"s":"dY","f":3432.5,"v":1.09},{"s":"dY","f":3436.1,"v":0.87},{"s":"dY","f":3441.2,"v":1.01},{"s":"dY","f":3447,"v":0.97},{"s":"dY","f":3454.2,"v":0.97},{"s":"dY","f":3461.4,"v":0.94},{"s":"dY","f":3468.6,"v":0.99},{"s":"dY","f":3477.3,"v":1.06},{"s":"dY","f":3483.1,"v":1.01},{"s":"dY","f":3488.9,"v":1.11},{"s":"dY","f":3497.5,"v":1.14},{"s":"dY","f":3500.4,"v":1.38},{"s":"dY","f":3503.3,"v":1.68},{"s":"dY","f":3506.9,"v":1.70},{"s":"dY","f":3510.5,"v":1.63},{"s":"dY","f":3513.4,"v":1.43},{"s":"dY","f":3516.3,"v":1.11},{"s":"dY","f":3518.5,"v":1.68},{"s":"dY","f":3519.9,"v":2.05},{"s":"dY","f":3522.1,"v":1.63},{"s":"dY","f":3525,"v":1.06},{"s":"dY","f":3528.6,"v":0.77},{"s":"dY","f":3532.2,"v":0.94},{"s":"dY","f":3538,"v":0.99},{"s":"dY","f":3540.9,"v":1.09},{"s":"dY","f":3545.2,"v":1.24},{"s":"dY","f":3551,"v":1.04},{"s":"dY","f":3555.3,"v":0.94},{"s":"dY","f":3561.1,"v":0.74},{"s":"dY","f":3566.9,"v":0.45},{"s":"dY","f":3571.8,"v":0.40},{"s":"dY","f":3576.2,"v":0.55},{"s":"dY","f":3580.6,"v":0.74},{"s":"dY","f":3584.9,"v":0.72},{"s":"dY","f":3589.3,"v":0.60},{"s":"dY","f":3593.6,"v":0.45},{"s":"dY","f":3597.2,"v":0.40},{"s":"dY","f":3600.9,"v":1.14},{"s":"dY","f":3603,"v":2.86},{"s":"dY","f":3604.9,"v":3.16},{"s":"dY","f":3606.7,"v":2.12},{"s":"dY","f":3608.9,"v":0.55},{"s":"dY","f":3610.3,"v":0.69},{"s":"dY","f":3612.5,"v":1.01},{"s":"dY","f":3614.7,"v":0.55},{"s":"dY","f":3616.8,"v":0.74},{"s":"dY","f":3619.7,"v":0.89},{"s":"dY","f":3623.4,"v":1.48},{"s":"dY","f":3626.3,"v":1.14},{"s":"dY","f":3629.2,"v":0.79},{"s":"dY","f":3632.1,"v":0.94},{"s":"dY","f":3635.7,"v":1.19},{"s":"dY","f":3639.3,"v":1.09},{"s":"dY","f":3643,"v":0.89},{"s":"dY","f":3648.8,"v":0.94},{"s":"dY","f":3656,"v":0.94},{"s":"dY","f":3663.3,"v":1.01},{"s":"dY","f":3670.5,"v":0.97},{"s":"dY","f":3677.8,"v":0.94},{"s":"dY","f":3685,"v":0.94},{"s":"dY","f":3692.3,"v":0.94},{"s":"dY","f":3699.6,"v":1.04},{"s":"dY","f":3703.9,"v":1.11},{"s":"dY","f":3708.3,"v":1.29},{"s":"dY","f":3714.1,"v":1.43},{"s":"dY","f":3719.9,"v":1.41},{"s":"dY","f":3724.2,"v":1.36},{"s":"dY","f":3728.6,"v":1.09},{"s":"dY","f":3730.8,"v":0.84},{"s":"dY","f":3733.2,"v":1.53},{"s":"dY","f":3735.8,"v":1.04},{"s":"dY","f":3739.5,"v":1.26},{"s":"dY","f":3743.1,"v":1.14},{"s":"dY","f":3747.5,"v":0.97},{"s":"dY","f":3753.3,"v":0.97},{"s":"dY","f":3759.8,"v":1.04},{"s":"dY","f":3764.9,"v":0.99},{"s":"dY","f":3768.5,"v":0.89},{"s":"dY","f":3771,"v":0.79},
      {"s":"dZ","f":2919,"v":-0.12},{"s":"dZ","f":2924.8,"v":-0.22},{"s":"dZ","f":2930.6,"v":-0.19},{"s":"dZ","f":2937.9,"v":-0.14},{"s":"dZ","f":2945.1,"v":-0.12},{"s":"dZ","f":2949.5,"v":-0.04},{"s":"dZ","f":2955.3,"v":0.08},{"s":"dZ","f":2959.7,"v":0.03},{"s":"dZ","f":2964,"v":-0.09},{"s":"dZ","f":2966.9,"v":-0.12},{"s":"dZ","f":2969.8,"v":0.05},{"s":"dZ","f":2973.4,"v":0.23},{"s":"dZ","f":2977.1,"v":0.0},{"s":"dZ","f":2980,"v":-0.29},{"s":"dZ","f":2982.9,"v":-0.59},{"s":"dZ","f":2986.5,"v":-0.71},{"s":"dZ","f":2990.9,"v":-0.66},{"s":"dZ","f":2994.5,"v":-0.34},{"s":"dZ","f":2998.8,"v":-0.09},{"s":"dZ","f":3002.5,"v":0.0},{"s":"dZ","f":3006.1,"v":-0.04},{"s":"dZ","f":3011.9,"v":-0.09},{"s":"dZ","f":3017.7,"v":-0.17},{"s":"dZ","f":3027.9,"v":-0.19},{"s":"dZ","f":3035.1,"v":-0.22},{"s":"dZ","f":3042.4,"v":-0.17},{"s":"dZ","f":3049.6,"v":-0.24},{"s":"dZ","f":3056.8,"v":-0.27},{"s":"dZ","f":3064.2,"v":-0.27},{"s":"dZ","f":3071.4,"v":-0.24},{"s":"dZ","f":3078.7,"v":-0.19},{"s":"dZ","f":3085.9,"v":-0.22},{"s":"dZ","f":3093.2,"v":-0.12},{"s":"dZ","f":3100.4,"v":-0.09},{"s":"dZ","f":3103.3,"v":0.10},{"s":"dZ","f":3107,"v":0.47},{"s":"dZ","f":3110.6,"v":0.25},{"s":"dZ","f":3113.5,"v":-0.44},{"s":"dZ","f":3115.2,"v":-0.83},{"s":"dZ","f":3116.7,"v":-0.49},{"s":"dZ","f":3118.6,"v":-0.34},{"s":"dZ","f":3120,"v":-0.49},{"s":"dZ","f":3122.2,"v":-0.29},{"s":"dZ","f":3125.1,"v":-0.34},{"s":"dZ","f":3128,"v":-0.49},{"s":"dZ","f":3132.4,"v":-0.68},{"s":"dZ","f":3136.7,"v":-0.78},{"s":"dZ","f":3141.1,"v":-0.78},{"s":"dZ","f":3145.1,"v":-0.76},{"s":"dZ","f":3150.9,"v":-0.76},{"s":"dZ","f":3156.6,"v":-0.83},{"s":"dZ","f":3161,"v":-0.78},{"s":"dZ","f":3165.3,"v":-0.54},{"s":"dZ","f":3169.7,"v":-0.39},{"s":"dZ","f":3174,"v":-0.29},{"s":"dZ","f":3178.3,"v":-0.09},{"s":"dZ","f":3182.7,"v":-0.09},{"s":"dZ","f":3187,"v":-0.07},{"s":"dZ","f":3189.9,"v":-0.19},{"s":"dZ","f":3193.5,"v":-0.44},{"s":"dZ","f":3194.9,"v":-0.24},{"s":"dZ","f":3196.4,"v":0.35},{"s":"dZ","f":3198.6,"v":0.40},{"s":"dZ","f":3200.7,"v":0.30},{"s":"dZ","f":3202.9,"v":0.10},{"s":"dZ","f":3205.1,"v":-0.34},{"s":"dZ","f":3207.2,"v":-0.83},{"s":"dZ","f":3209.4,"v":-1.13},{"s":"dZ","f":3210.8,"v":-1.20},{"s":"dZ","f":3213,"v":-0.83},{"s":"dZ","f":3215.2,"v":-0.49},{"s":"dZ","f":3217.3,"v":-0.29},{"s":"dZ","f":3220.2,"v":-0.17},{"s":"dZ","f":3223.1,"v":-0.34},{"s":"dZ","f":3225.3,"v":-0.44},{"s":"dZ","f":3228.9,"v":-0.34},{"s":"dZ","f":3233.2,"v":-0.24},{"s":"dZ","f":3239,"v":-0.14},{"s":"dZ","f":3243.4,"v":-0.14},{"s":"dZ","f":3249.1,"v":-0.27},{"s":"dZ","f":3254.9,"v":-0.24},{"s":"dZ","f":3260.7,"v":-0.14},{"s":"dZ","f":3263.6,"v":-0.07},{"s":"dZ","f":3267.9,"v":-0.19},{"s":"dZ","f":3272.3,"v":-0.34},{"s":"dZ","f":3275.1,"v":-0.46},{"s":"dZ","f":3280.9,"v":-0.34},{"s":"dZ","f":3286.7,"v":-0.24},{"s":"dZ","f":3292.5,"v":-0.04},{"s":"dZ","f":3298.3,"v":-0.19},{"s":"dZ","f":3304,"v":0.0},{"s":"dZ","f":3308.4,"v":0.20},{"s":"dZ","f":3311.3,"v":0.55},{"s":"dZ","f":3313,"v":0.79},{"s":"dZ","f":3314.9,"v":0.65},{"s":"dZ","f":3317,"v":-0.14},{"s":"dZ","f":3318.8,"v":-0.68},{"s":"dZ","f":3320.7,"v":-0.49},{"s":"dZ","f":3322.8,"v":-0.68},{"s":"dZ","f":3325.7,"v":-0.39},{"s":"dZ","f":3330.1,"v":-0.39},{"s":"dZ","f":3334.4,"v":-0.59},{"s":"dZ","f":3338.7,"v":-0.64},{"s":"dZ","f":3346,"v":-0.68},{"s":"dZ","f":3353.2,"v":-0.78},{"s":"dZ","f":3357.5,"v":-0.98},{"s":"dZ","f":3360.3,"v":-1.03},{"s":"dZ","f":3364.6,"v":-0.88},{"s":"dZ","f":3367.5,"v":-0.76},{"s":"dZ","f":3370.4,"v":-0.44},{"s":"dZ","f":3374.7,"v":-0.29},{"s":"dZ","f":3378.3,"v":-0.14},{"s":"dZ","f":3383.4,"v":-0.14},{"s":"dZ","f":3387.7,"v":-0.24},{"s":"dZ","f":3390.6,"v":-0.39},{"s":"dZ","f":3393.5,"v":-0.56},{"s":"dZ","f":3395.7,"v":0.15},{"s":"dZ","f":3396.8,"v":1.48},{"s":"dZ","f":3397.8,"v":0.65},{"s":"dZ","f":3399.3,"v":0.25},{"s":"dZ","f":3401.4,"v":0.0},{"s":"dZ","f":3402.9,"v":-0.59},{"s":"dZ","f":3404.3,"v":-1.33},{"s":"dZ","f":3407.2,"v":-1.37},{"s":"dZ","f":3409.8,"v":-1.62},{"s":"dZ","f":3412.3,"v":-1.07},{"s":"dZ","f":3414.5,"v":-0.59},{"s":"dZ","f":3418.1,"v":-0.44},{"s":"dZ","f":3421,"v":-0.49},{"s":"dZ","f":3423.8,"v":-0.34},{"s":"dZ","f":3426.7,"v":-0.17},{"s":"dZ","f":3431.1,"v":0.0},{"s":"dZ","f":3436.8,"v":-0.02},{"s":"dZ","f":3442.6,"v":-0.12},{"s":"dZ","f":3448.4,"v":-0.17},{"s":"dZ","f":3454.2,"v":-0.24},{"s":"dZ","f":3461.4,"v":-0.27},{"s":"dZ","f":3468.6,"v":-0.24},{"s":"dZ","f":3475.9,"v":-0.27},{"s":"dZ","f":3483.1,"v":-0.19},{"s":"dZ","f":3488.9,"v":-0.17},{"s":"dZ","f":3493.9,"v":-0.27},{"s":"dZ","f":3499,"v":-0.19},{"s":"dZ","f":3503.3,"v":0.20},{"s":"dZ","f":3506.9,"v":0.55},{"s":"dZ","f":3510.5,"v":0.77},{"s":"dZ","f":3513.4,"v":0.55},{"s":"dZ","f":3515.6,"v":-0.19},{"s":"dZ","f":3517.1,"v":-1.03},{"s":"dZ","f":3519.2,"v":-1.07},{"s":"dZ","f":3521.4,"v":-0.93},{"s":"dZ","f":3523.6,"v":-0.59},{"s":"dZ","f":3527.9,"v":-0.34},{"s":"dZ","f":3533.7,"v":-0.54},{"s":"dZ","f":3538,"v":-0.39},{"s":"dZ","f":3541.6,"v":-0.24},{"s":"dZ","f":3545.2,"v":-0.34},{"s":"dZ","f":3549.6,"v":-0.64},{"s":"dZ","f":3553.9,"v":-0.88},{"s":"dZ","f":3558.2,"v":-0.93},{"s":"dZ","f":3563.1,"v":-1.05},{"s":"dZ","f":3567.5,"v":-1.05},{"s":"dZ","f":3570.4,"v":-0.93},{"s":"dZ","f":3573.3,"v":-0.68},{"s":"dZ","f":3576.2,"v":-0.59},{"s":"dZ","f":3579.8,"v":-0.24},{"s":"dZ","f":3583.5,"v":-0.04},{"s":"dZ","f":3587.8,"v":0.03},{"s":"dZ","f":3592.2,"v":-0.19},{"s":"dZ","f":3595.1,"v":-0.44},{"s":"dZ","f":3597.2,"v":-0.61},{"s":"dZ","f":3598.7,"v":-0.34},{"s":"dZ","f":3600.1,"v":0.40},{"s":"dZ","f":3601.6,"v":0.35},{"s":"dZ","f":3603.8,"v":0.15},{"s":"dZ","f":3606,"v":-0.09},{"s":"dZ","f":3607.4,"v":-0.34},{"s":"dZ","f":3608.9,"v":-0.83},{"s":"dZ","f":3610.3,"v":-1.23},{"s":"dZ","f":3612.5,"v":-1.37},{"s":"dZ","f":3614.7,"v":-1.55},{"s":"dZ","f":3616.1,"v":-1.33},{"s":"dZ","f":3618.3,"v":-0.83},{"s":"dZ","f":3621.2,"v":-0.54},{"s":"dZ","f":3623.4,"v":-0.41},{"s":"dZ","f":3626.3,"v":-0.49},{"s":"dZ","f":3629.9,"v":-0.32},{"s":"dZ","f":3633.5,"v":-0.09},{"s":"dZ","f":3637.2,"v":0.10},{"s":"dZ","f":3641.5,"v":0.10},{"s":"dZ","f":3645.9,"v":-0.09},{"s":"dZ","f":3650.2,"v":-0.14},{"s":"dZ","f":3658.9,"v":-0.17},{"s":"dZ","f":3669.1,"v":-0.17},{"s":"dZ","f":3674.9,"v":-0.29},{"s":"dZ","f":3679.2,"v":-0.34},{"s":"dZ","f":3685,"v":-0.27},{"s":"dZ","f":3692.3,"v":-0.24},{"s":"dZ","f":3699.6,"v":-0.17},{"s":"dZ","f":3706.8,"v":-0.14},{"s":"dZ","f":3711.2,"v":-0.19},{"s":"dZ","f":3715.5,"v":-0.27},{"s":"dZ","f":3718.4,"v":-0.09},{"s":"dZ","f":3721.3,"v":0.10},{"s":"dZ","f":3724.2,"v":-0.04},{"s":"dZ","f":3727.1,"v":-0.44},{"s":"dZ","f":3729.3,"v":-0.78},{"s":"dZ","f":3730.9,"v":-1.13},{"s":"dZ","f":3732.2,"v":-0.49},{"s":"dZ","f":3734.4,"v":-0.19},{"s":"dZ","f":3737.3,"v":-0.14},{"s":"dZ","f":3741.7,"v":-0.24},{"s":"dZ","f":3746,"v":-0.44},{"s":"dZ","f":3750.4,"v":-0.64},{"s":"dZ","f":3754.7,"v":-0.76},{"s":"dZ","f":3759.1,"v":-0.68},{"s":"dZ","f":3764.9,"v":-0.68},{"s":"dZ","f":3771,"v":-0.73},
      {"s":"oX","f":2919.9,"v":-1.56},{"s":"oX","f":2927.7,"v":-1.62},{"s":"oX","f":2933.5,"v":-1.67},{"s":"oX","f":2937.9,"v":-1.62},{"s":"oX","f":2942.2,"v":-1.33},{"s":"oX","f":2948,"v":-0.83},{"s":"oX","f":2955.3,"v":-0.24},{"s":"oX","f":2962.6,"v":0.40},{"s":"oX","f":2966.9,"v":0.65},{"s":"oX","f":2971.3,"v":0.78},{"s":"oX","f":2974.9,"v":0.68},{"s":"oX","f":2980,"v":0.83},{"s":"oX","f":2985.8,"v":0.72},{"s":"oX","f":2991.6,"v":0.55},{"s":"oX","f":2998.8,"v":0.52},{"s":"oX","f":3013.4,"v":0.47},{"s":"oX","f":3027.9,"v":0.42},{"s":"oX","f":3035.1,"v":0.42},{"s":"oX","f":3049.6,"v":0.47},{"s":"oX","f":3064.2,"v":0.57},{"s":"oX","f":3072.9,"v":0.65},{"s":"oX","f":3078.7,"v":0.80},{"s":"oX","f":3085.9,"v":0.99},{"s":"oX","f":3093.2,"v":1.19},{"s":"oX","f":3100.4,"v":1.25},{"s":"oX","f":3107.7,"v":1.29},{"s":"oX","f":3114.2,"v":1.28},{"s":"oX","f":3116.4,"v":1.30},{"s":"oX","f":3119.3,"v":0.55},{"s":"oX","f":3125.1,"v":-0.34},{"s":"oX","f":3130.9,"v":-1.07},{"s":"oX","f":3136.7,"v":-1.60},{"s":"oX","f":3142.2,"v":-2.21},{"s":"oX","f":3150.9,"v":-2.41},{"s":"oX","f":3158.1,"v":-2.60},{"s":"oX","f":3165.3,"v":-2.75},{"s":"oX","f":3172.5,"v":-2.31},{"s":"oX","f":3175.4,"v":-2.06},{"s":"oX","f":3179.8,"v":-1.33},{"s":"oX","f":3182.7,"v":-0.83},{"s":"oX","f":3187,"v":-0.09},{"s":"oX","f":3191.3,"v":0.45},{"s":"oX","f":3195.7,"v":0.69},{"s":"oX","f":3198.6,"v":0.89},{"s":"oX","f":3202.9,"v":1.33},{"s":"oX","f":3205.8,"v":1.53},{"s":"oX","f":3208.7,"v":1.48},{"s":"oX","f":3211.6,"v":1.24},{"s":"oX","f":3214.5,"v":0.89},{"s":"oX","f":3218.8,"v":0.82},{"s":"oX","f":3223.1,"v":0.84},{"s":"oX","f":3227.5,"v":0.65},{"s":"oX","f":3231.8,"v":0.57},{"s":"oX","f":3244.8,"v":0.55},{"s":"oX","f":3259.2,"v":0.55},{"s":"oX","f":3266.5,"v":0.65},{"s":"oX","f":3280.9,"v":0.79},{"s":"oX","f":3288.2,"v":0.94},{"s":"oX","f":3295.4,"v":1.14},{"s":"oX","f":3302.6,"v":1.36},{"s":"oX","f":3309.8,"v":1.41},{"s":"oX","f":3315.6,"v":1.46},{"s":"oX","f":3319.9,"v":1.85},{"s":"oX","f":3322.8,"v":1.33},{"s":"oX","f":3327.2,"v":0.65},{"s":"oX","f":3331.5,"v":-0.09},{"s":"oX","f":3335.8,"v":-1.07},{"s":"oX","f":3340.2,"v":-2.06},{"s":"oX","f":3344.5,"v":-2.70},{"s":"oX","f":3350.3,"v":-3.02},{"s":"oX","f":3356.1,"v":-2.90},{"s":"oX","f":3363,"v":-3.00},{"s":"oX","f":3370.4,"v":-2.78},{"s":"oX","f":3374.7,"v":-2.46},{"s":"oX","f":3377.6,"v":-2.21},{"s":"oX","f":3381.9,"v":-1.23},{"s":"oX","f":3386.3,"v":-0.24},{"s":"oX","f":3390.6,"v":0.55},{"s":"oX","f":3394.9,"v":1.04},{"s":"oX","f":3397.1,"v":1.24},{"s":"oX","f":3399.3,"v":1.14},{"s":"oX","f":3402.2,"v":1.68},{"s":"oX","f":3405.1,"v":1.95},{"s":"oX","f":3407.9,"v":1.63},{"s":"oX","f":3412.3,"v":0.84},{"s":"oX","f":3416.6,"v":0.82},{"s":"oX","f":3421,"v":0.97},{"s":"oX","f":3425.3,"v":0.65},{"s":"oX","f":3428.2,"v":0.55},{"s":"oX","f":3439.7,"v":0.60},{"s":"oX","f":3454.2,"v":0.65},{"s":"oX","f":3468.6,"v":0.74},{"s":"oX","f":3483.1,"v":0.99},{"s":"oX","f":3490.3,"v":1.19},{"s":"oX","f":3497.5,"v":1.36},{"s":"oX","f":3504.8,"v":1.51},{"s":"oX","f":3512,"v":1.48},{"s":"oX","f":3515.6,"v":1.58},{"s":"oX","f":3517.8,"v":1.78},{"s":"oX","f":3519.9,"v":1.24},{"s":"oX","f":3523.6,"v":0.15},{"s":"oX","f":3529.3,"v":-0.64},{"s":"oX","f":3533.7,"v":-1.07},{"s":"oX","f":3538,"v":-1.67},{"s":"oX","f":3543.8,"v":-2.01},{"s":"oX","f":3549.6,"v":-2.16},{"s":"oX","f":3555.3,"v":-2.55},{"s":"oX","f":3562.6,"v":-2.80},{"s":"oX","f":3569.8,"v":-3.10},{"s":"oX","f":3574.1,"v":-3.00},{"s":"oX","f":3576.2,"v":-2.90},{"s":"oX","f":3580.6,"v":-2.46},{"s":"oX","f":3583.5,"v":-1.82},{"s":"oX","f":3587.8,"v":-0.83},{"s":"oX","f":3592.2,"v":0.15},{"s":"oX","f":3596.5,"v":0.94},{"s":"oX","f":3599.4,"v":1.21},{"s":"oX","f":3603.8,"v":1.26},{"s":"oX","f":3606,"v":1.19},{"s":"oX","f":3608.9,"v":1.68},{"s":"oX","f":3610.3,"v":1.63},{"s":"oX","f":3612.5,"v":1.31},{"s":"oX","f":3616.8,"v":1.19},{"s":"oX","f":3619.7,"v":0.84},{"s":"oX","f":3624.1,"v":0.69},{"s":"oX","f":3627,"v":0.77},{"s":"oX","f":3629.9,"v":0.60},{"s":"oX","f":3634.3,"v":0.45},{"s":"oX","f":3641.5,"v":0.55},{"s":"oX","f":3656,"v":0.56},{"s":"oX","f":3670.5,"v":0.62},{"s":"oX","f":3685,"v":0.67},{"s":"oX","f":3692.3,"v":0.79},{"s":"oX","f":3699.6,"v":0.94},{"s":"oX","f":3706.8,"v":1.06},{"s":"oX","f":3714.1,"v":1.24},{"s":"oX","f":3722.8,"v":1.41},{"s":"oX","f":3727.1,"v":1.29},{"s":"oX","f":3731.5,"v":0.84},{"s":"oX","f":3734.4,"v":0.15},{"s":"oX","f":3738.8,"v":-0.64},{"s":"oX","f":3743.1,"v":-1.23},{"s":"oX","f":3750.4,"v":-1.62},{"s":"oX","f":3757.6,"v":-2.06},{"s":"oX","f":3762,"v":-2.21},{"s":"oX","f":3766.4,"v":-2.21},{"s":"oX","f":3771,"v":-2.31},
      {"s":"oY","f":2919.9,"v":-0.68},{"s":"oY","f":2921.2,"v":-0.24},{"s":"oY","f":2924.8,"v":0.15},{"s":"oY","f":2929.2,"v":0.25},{"s":"oY","f":2933.5,"v":0.30},{"s":"oY","f":2937.9,"v":0.55},{"s":"oY","f":2942.2,"v":0.72},{"s":"oY","f":2945.9,"v":0.55},{"s":"oY","f":2949.5,"v":0.15},{"s":"oY","f":2953.1,"v":-0.02},{"s":"oY","f":2956.8,"v":0.10},{"s":"oY","f":2961.1,"v":0.45},{"s":"oY","f":2965.5,"v":0.74},{"s":"oY","f":2969.1,"v":0.94},{"s":"oY","f":2972,"v":1.07},{"s":"oY","f":2975.6,"v":0.99},{"s":"oY","f":2980,"v":0.74},{"s":"oY","f":2982.9,"v":0.50},{"s":"oY","f":2985.5,"v":0.35},{"s":"oY","f":2988,"v":0.55},{"s":"oY","f":2990.1,"v":0.65},{"s":"oY","f":2992.3,"v":0.25},{"s":"oY","f":2994.5,"v":-0.44},{"s":"oY","f":2998.1,"v":-0.98},{"s":"oY","f":3001,"v":-0.78},{"s":"oY","f":3003.9,"v":-0.24},{"s":"oY","f":3006.1,"v":0.10},{"s":"oY","f":3009,"v":0.0},{"s":"oY","f":3011.9,"v":-0.22},{"s":"oY","f":3014.8,"v":-0.24},{"s":"oY","f":3019.2,"v":0.0},{"s":"oY","f":3023.5,"v":0.10},{"s":"oY","f":3029.3,"v":0.10},{"s":"oY","f":3035.1,"v":0.03},{"s":"oY","f":3040.9,"v":-0.07},{"s":"oY","f":3046.7,"v":0.05},{"s":"oY","f":3052.5,"v":0.03},{"s":"oY","f":3059.8,"v":0.0},{"s":"oY","f":3064.2,"v":-0.02},{"s":"oY","f":3070,"v":-0.12},{"s":"oY","f":3075.8,"v":0.0},{"s":"oY","f":3080.1,"v":0.08},{"s":"oY","f":3084.5,"v":-0.14},{"s":"oY","f":3088.8,"v":-0.29},{"s":"oY","f":3093.2,"v":-0.24},{"s":"oY","f":3099,"v":-0.29},{"s":"oY","f":3102.6,"v":-0.34},{"s":"oY","f":3106.2,"v":-0.04},{"s":"oY","f":3110.6,"v":0.35},{"s":"oY","f":3114.2,"v":0.79},{"s":"oY","f":3116,"v":0.89},{"s":"oY","f":3117.9,"v":0.35},{"s":"oY","f":3120,"v":-0.24},{"s":"oY","f":3122.2,"v":-0.59},{"s":"oY","f":3125.1,"v":-0.88},{"s":"oY","f":3128,"v":-0.73},{"s":"oY","f":3131.6,"v":-0.61},{"s":"oY","f":3135.3,"v":-0.93},{"s":"oY","f":3139.3,"v":-1.08},{"s":"oY","f":3142.2,"v":-1.23},{"s":"oY","f":3145.1,"v":-0.88},{"s":"oY","f":3149.4,"v":-0.24},{"s":"oY","f":3153.8,"v":0.05},{"s":"oY","f":3159.5,"v":0.0},{"s":"oY","f":3162.4,"v":-0.04},{"s":"oY","f":3165.3,"v":0.10},{"s":"oY","f":3171.1,"v":0.65},{"s":"oY","f":3175.4,"v":0.99},{"s":"oY","f":3179,"v":1.09},{"s":"oY","f":3182.7,"v":0.94},{"s":"oY","f":3185.5,"v":0.60},{"s":"oY","f":3187.7,"v":0.42},{"s":"oY","f":3189.9,"v":0.69},{"s":"oY","f":3192.8,"v":1.33},{"s":"oY","f":3195.7,"v":1.88},{"s":"oY","f":3197.8,"v":2.25},{"s":"oY","f":3200.7,"v":2.02},{"s":"oY","f":3202.9,"v":1.73},{"s":"oY","f":3205.1,"v":1.14},{"s":"oY","f":3207.2,"v":0.35},{"s":"oY","f":3209.4,"v":-0.14},{"s":"oY","f":3211.6,"v":0.35},{"s":"oY","f":3214.5,"v":0.84},{"s":"oY","f":3216.6,"v":0.89},{"s":"oY","f":3219.5,"v":0.69},{"s":"oY","f":3221.7,"v":0.35},{"s":"oY","f":3224.6,"v":0.30},{"s":"oY","f":3228.9,"v":0.20},{"s":"oY","f":3233.2,"v":0.18},{"s":"oY","f":3237.6,"v":0.15},{"s":"oY","f":3243.4,"v":0.10},{"s":"oY","f":3249.1,"v":0.03},{"s":"oY","f":3254.9,"v":-0.02},{"s":"oY","f":3260.7,"v":-0.07},{"s":"oY","f":3266.5,"v":-0.02},{"s":"oY","f":3272.3,"v":-0.09},{"s":"oY","f":3276.6,"v":-0.34},{"s":"oY","f":3280.9,"v":-0.49},{"s":"oY","f":3285.3,"v":-0.59},{"s":"oY","f":3289.6,"v":-0.49},{"s":"oY","f":3293.9,"v":-0.41},{"s":"oY","f":3296.8,"v":-0.54},{"s":"oY","f":3299.7,"v":-0.66},{"s":"oY","f":3304,"v":-0.61},{"s":"oY","f":3308.4,"v":-0.49},{"s":"oY","f":3311.3,"v":-0.24},{"s":"oY","f":3314.2,"v":0.25},{"s":"oY","f":3317.1,"v":0.89},{"s":"oY","f":3319.2,"v":1.09},{"s":"oY","f":3321.4,"v":0.65},{"s":"oY","f":3323.6,"v":-0.34},{"s":"oY","f":3325.7,"v":-0.93},{"s":"oY","f":3327.9,"v":-0.64},{"s":"oY","f":3330.8,"v":-0.19},{"s":"oY","f":3333.7,"v":-0.12},{"s":"oY","f":3336.6,"v":-0.49},{"s":"oY","f":3340.2,"v":-0.88},{"s":"oY","f":3344.5,"v":-0.88},{"s":"oY","f":3348.8,"v":-0.54},{"s":"oY","f":3353.2,"v":0.15},{"s":"oY","f":3357.4,"v":0.15},{"s":"oY","f":3360.3,"v":0.10},{"s":"oY","f":3363.2,"v":-0.09},{"s":"oY","f":3366.8,"v":-0.39},{"s":"oY","f":3370.4,"v":-0.24},{"s":"oY","f":3374.7,"v":0.55},{"s":"oY","f":3378.3,"v":0.89},{"s":"oY","f":3381.2,"v":0.99},{"s":"oY","f":3384.8,"v":0.79},{"s":"oY","f":3389.2,"v":0.40},{"s":"oY","f":3392.1,"v":0.47},{"s":"oY","f":3394.9,"v":1.33},{"s":"oY","f":3396.8,"v":1.99},{"s":"oY","f":3398.6,"v":1.53},{"s":"oY","f":3400,"v":1.04},{"s":"oY","f":3401.2,"v":1.53},{"s":"oY","f":3402.9,"v":1.14},{"s":"oY","f":3404.3,"v":0.79},{"s":"oY","f":3406.5,"v":0.40},{"s":"oY","f":3409.4,"v":0.55},{"s":"oY","f":3411.6,"v":0.84},{"s":"oY","f":3413.7,"v":0.05},{"s":"oY","f":3416.6,"v":-0.39},{"s":"oY","f":3419.5,"v":0.25},{"s":"oY","f":3421.7,"v":0.10},{"s":"oY","f":3423.8,"v":-0.09},{"s":"oY","f":3426.7,"v":-0.39},{"s":"oY","f":3428.9,"v":-0.44},{"s":"oY","f":3432.5,"v":-0.19},{"s":"oY","f":3436.1,"v":0.10},{"s":"oY","f":3439.7,"v":0.20},{"s":"oY","f":3444.1,"v":0.0},{"s":"oY","f":3447,"v":-0.12},{"s":"oY","f":3452.7,"v":-0.04},{"s":"oY","f":3458.5,"v":-0.07},{"s":"oY","f":3465.8,"v":-0.09},{"s":"oY","f":3473,"v":-0.09},{"s":"oY","f":3480.2,"v":-0.07},{"s":"oY","f":3487.4,"v":-0.09},{"s":"oY","f":3491.8,"v":-0.29},{"s":"oY","f":3496.1,"v":-0.59},{"s":"oY","f":3500.4,"v":-0.81},{"s":"oY","f":3504.8,"v":-0.73},{"s":"oY","f":3509.1,"v":-0.44},{"s":"oY","f":3512.7,"v":0.05},{"s":"oY","f":3514.9,"v":0.65},{"s":"oY","f":3517.1,"v":0.97},{"s":"oY","f":3518.9,"v":0.55},{"s":"oY","f":3520.7,"v":-0.34},{"s":"oY","f":3522.1,"v":-1.08},{"s":"oY","f":3523.8,"v":-1.42},{"s":"oY","f":3525.7,"v":-1.08},{"s":"oY","f":3527.2,"v":-0.49},{"s":"oY","f":3529.3,"v":0.25},{"s":"oY","f":3532.2,"v":0.55},{"s":"oY","f":3535.1,"v":0.05},{"s":"oY","f":3538,"v":-0.83},{"s":"oY","f":3540.5,"v":-1.15},{"s":"oY","f":3543.1,"v":-0.54},{"s":"oY","f":3545.2,"v":0.25},{"s":"oY","f":3548.1,"v":0.65},{"s":"oY","f":3551,"v":0.74},{"s":"oY","f":3553.9,"v":0.40},{"s":"oY","f":3556.8,"v":0.0},{"s":"oY","f":3561.1,"v":-0.14},{"s":"oY","f":3565.5,"v":-0.19},{"s":"oY","f":3569.8,"v":-0.27},{"s":"oY","f":3573.3,"v":-0.24},{"s":"oY","f":3577.6,"v":0.15},{"s":"oY","f":3582,"v":0.45},{"s":"oY","f":3585.6,"v":0.62},{"s":"oY","f":3589.3,"v":0.62},{"s":"oY","f":3593.6,"v":0.65},{"s":"oY","f":3596.5,"v":0.89},{"s":"oY","f":3598.7,"v":1.48},{"s":"oY","f":3600.6,"v":1.96},{"s":"oY","f":3603,"v":1.78},{"s":"oY","f":3605.2,"v":1.68},{"s":"oY","f":3607.4,"v":1.14},{"s":"oY","f":3609.6,"v":0.55},{"s":"oY","f":3611.8,"v":0.25},{"s":"oY","f":3613.9,"v":-0.19},{"s":"oY","f":3616.1,"v":0.05},{"s":"oY","f":3618.3,"v":0.20},{"s":"oY","f":3624.1,"v":0.20},{"s":"oY","f":3627,"v":0.25},{"s":"oY","f":3629.9,"v":-0.04},{"s":"oY","f":3632.8,"v":-0.24},{"s":"oY","f":3637.2,"v":-0.04},{"s":"oY","f":3641.5,"v":0.10},{"s":"oY","f":3645.9,"v":-0.04},{"s":"oY","f":3650.2,"v":-0.19},{"s":"oY","f":3656,"v":-0.09},{"s":"oY","f":3663.3,"v":-0.14},{"s":"oY","f":3670.5,"v":-0.09},{"s":"oY","f":3674.9,"v":0.03},{"s":"oY","f":3680.7,"v":0.05},{"s":"oY","f":3688,"v":0.0},{"s":"oY","f":3693.8,"v":-0.14},{"s":"oY","f":3699.6,"v":-0.22},{"s":"oY","f":3705.4,"v":-0.14},{"s":"oY","f":3711.2,"v":-0.09},{"s":"oY","f":3715.5,"v":-0.19},{"s":"oY","f":3719.9,"v":-0.44},{"s":"oY","f":3724.2,"v":-0.66},{"s":"oY","f":3727.9,"v":-0.54},{"s":"oY","f":3730.8,"v":-0.64},{"s":"oY","f":3732.9,"v":-0.44},{"s":"oY","f":3735.1,"v":-0.78},{"s":"oY","f":3738,"v":-0.73},{"s":"oY","f":3741.7,"v":-0.88},{"s":"oY","f":3744.6,"v":-0.64},{"s":"oY","f":3748.2,"v":-0.46},{"s":"oY","f":3751.8,"v":-0.64},{"s":"oY","f":3755.4,"v":-0.98},{"s":"oY","f":3758.3,"v":-1.08},{"s":"oY","f":3761.2,"v":-0.78},{"s":"oY","f":3764.1,"v":-0.24},{"s":"oY","f":3767,"v":0.15},{"s":"oY","f":3771,"v":0.30},
      {"s":"oZ","f":2919,"v":0.25},{"s":"oZ","f":2923.4,"v":0.20},{"s":"oZ","f":2927.7,"v":0.08},{"s":"oZ","f":2933.5,"v":-0.07},{"s":"oZ","f":2939.3,"v":-0.22},{"s":"oZ","f":2945.1,"v":-0.19},{"s":"oZ","f":2950.9,"v":-0.14},{"s":"oZ","f":2956.8,"v":-0.07},{"s":"oZ","f":2962.6,"v":0.0},{"s":"oZ","f":2968.4,"v":0.05},{"s":"oZ","f":2972.4,"v":0.30},{"s":"oZ","f":2975.6,"v":0.20},{"s":"oZ","f":2978.5,"v":0.08},{"s":"oZ","f":2982.1,"v":-0.02},{"s":"oZ","f":2985.8,"v":0.15},{"s":"oZ","f":2989.4,"v":0.35},{"s":"oZ","f":2992.3,"v":0.47},{"s":"oZ","f":2995.9,"v":0.35},{"s":"oZ","f":2999.6,"v":0.28},{"s":"oZ","f":3004.6,"v":0.28},{"s":"oZ","f":3009,"v":0.18},{"s":"oZ","f":3014.8,"v":0.10},{"s":"oZ","f":3023.5,"v":0.05},{"s":"oZ","f":3032.2,"v":0.03},{"s":"oZ","f":3042.4,"v":0.03},{"s":"oZ","f":3052.5,"v":0.05},{"s":"oZ","f":3061.2,"v":0.05},{"s":"oZ","f":3068.5,"v":0.08},{"s":"oZ","f":3075.8,"v":0.05},{"s":"oZ","f":3083,"v":0.03},{"s":"oZ","f":3090.3,"v":0.03},{"s":"oZ","f":3096.1,"v":0.0},{"s":"oZ","f":3101.2,"v":-0.07},{"s":"oZ","f":3104.8,"v":-0.24},{"s":"oZ","f":3109.1,"v":-0.41},{"s":"oZ","f":3113.5,"v":-0.51},{"s":"oZ","f":3116.4,"v":-0.19},{"s":"oZ","f":3119.3,"v":-0.04},{"s":"oZ","f":3122.2,"v":0.05},{"s":"oZ","f":3126.6,"v":0.28},{"s":"oZ","f":3130.9,"v":0.50},{"s":"oZ","f":3135.3,"v":0.65},{"s":"oZ","f":3141.1,"v":0.62},{"s":"oZ","f":3146.6,"v":0.69},{"s":"oZ","f":3152.3,"v":0.67},{"s":"oZ","f":3156.6,"v":0.55},{"s":"oZ","f":3161,"v":0.35},{"s":"oZ","f":3165.3,"v":0.05},{"s":"oZ","f":3171.1,"v":-0.07},{"s":"oZ","f":3176.9,"v":-0.14},{"s":"oZ","f":3182.7,"v":-0.14},{"s":"oZ","f":3187,"v":-0.12},{"s":"oZ","f":3191.3,"v":-0.04},{"s":"oZ","f":3194.9,"v":0.0},{"s":"oZ","f":3197.1,"v":0.35},{"s":"oZ","f":3198.8,"v":0.47},{"s":"oZ","f":3200.7,"v":0.30},{"s":"oZ","f":3203.6,"v":0.20},{"s":"oZ","f":3205.8,"v":0.05},{"s":"oZ","f":3207.9,"v":-0.07},{"s":"oZ","f":3210.1,"v":0.05},{"s":"oZ","f":3213,"v":0.20},{"s":"oZ","f":3215.2,"v":0.35},{"s":"oZ","f":3217.3,"v":0.25},{"s":"oZ","f":3220.2,"v":0.10},{"s":"oZ","f":3223.1,"v":0.13},{"s":"oZ","f":3226.7,"v":0.20},{"s":"oZ","f":3230.3,"v":0.23},{"s":"oZ","f":3236.1,"v":0.15},{"s":"oZ","f":3243.4,"v":0.13},{"s":"oZ","f":3250.6,"v":0.13},{"s":"oZ","f":3259.2,"v":0.15},{"s":"oZ","f":3266.5,"v":0.18},{"s":"oZ","f":3273.7,"v":0.20},{"s":"oZ","f":3280.9,"v":0.25},{"s":"oZ","f":3286.7,"v":0.23},{"s":"oZ","f":3292.5,"v":0.18},{"s":"oZ","f":3298.3,"v":0.18},{"s":"oZ","f":3304,"v":0.05},{"s":"oZ","f":3308.4,"v":-0.04},{"s":"oZ","f":3312.7,"v":-0.19},{"s":"oZ","f":3316.3,"v":-0.49},{"s":"oZ","f":3318.5,"v":-0.34},{"s":"oZ","f":3320.7,"v":0.10},{"s":"oZ","f":3322.8,"v":0.20},{"s":"oZ","f":3325,"v":-0.04},{"s":"oZ","f":3327.9,"v":0.05},{"s":"oZ","f":3330.8,"v":0.35},{"s":"oZ","f":3333.7,"v":0.60},{"s":"oZ","f":3336.6,"v":0.40},{"s":"oZ","f":3340.2,"v":0.33},{"s":"oZ","f":3346,"v":0.35},{"s":"oZ","f":3350.3,"v":0.40},{"s":"oZ","f":3354.6,"v":0.45},{"s":"oZ","f":3358.8,"v":0.50},{"s":"oZ","f":3363.2,"v":0.40},{"s":"oZ","f":3367.5,"v":0.15},{"s":"oZ","f":3371.8,"v":-0.07},{"s":"oZ","f":3376.2,"v":-0.14},{"s":"oZ","f":3380.5,"v":-0.14},{"s":"oZ","f":3384.8,"v":-0.19},{"s":"oZ","f":3389.2,"v":-0.12},{"s":"oZ","f":3393.5,"v":0.0},{"s":"oZ","f":3396,"v":0.0},{"s":"oZ","f":3397.5,"v":0.84},{"s":"oZ","f":3399.3,"v":0.25},{"s":"oZ","f":3401.4,"v":-0.02},{"s":"oZ","f":3403.6,"v":-0.07},{"s":"oZ","f":3405.8,"v":-0.14},{"s":"oZ","f":3407.9,"v":-0.07},{"s":"oZ","f":3410.8,"v":0.35},{"s":"oZ","f":3413.7,"v":0.55},{"s":"oZ","f":3415.9,"v":0.35},{"s":"oZ","f":3418.1,"v":0.05},{"s":"oZ","f":3421,"v":0.15},{"s":"oZ","f":3425.3,"v":0.42},{"s":"oZ","f":3428.2,"v":0.25},{"s":"oZ","f":3431.8,"v":0.15},{"s":"oZ","f":3436.8,"v":0.13},{"s":"oZ","f":3442.6,"v":0.10},{"s":"oZ","f":3449.9,"v":0.08},{"s":"oZ","f":3457.1,"v":0.08},{"s":"oZ","f":3464.3,"v":0.08},{"s":"oZ","f":3471.5,"v":0.08},{"s":"oZ","f":3478.8,"v":0.05},{"s":"oZ","f":3486,"v":0.03},{"s":"oZ","f":3493.2,"v":0.08},{"s":"oZ","f":3499,"v":0.10},{"s":"oZ","f":3504.8,"v":0.0},{"s":"oZ","f":3509.1,"v":-0.24},{"s":"oZ","f":3512,"v":-0.44},{"s":"oZ","f":3515.6,"v":-0.54},{"s":"oZ","f":3517.8,"v":0.15},{"s":"oZ","f":3519.9,"v":-0.14},{"s":"oZ","f":3522.8,"v":-0.24},{"s":"oZ","f":3526.4,"v":0.25},{"s":"oZ","f":3530.1,"v":0.65},{"s":"oZ","f":3532.9,"v":0.72},{"s":"oZ","f":3535.8,"v":0.35},{"s":"oZ","f":3539.5,"v":0.10},{"s":"oZ","f":3543.8,"v":0.20},{"s":"oZ","f":3548.1,"v":0.20},{"s":"oZ","f":3552.5,"v":0.0},{"s":"oZ","f":3556.8,"v":-0.09},{"s":"oZ","f":3561.1,"v":0.05},{"s":"oZ","f":3566.9,"v":0.18},{"s":"oZ","f":3573.3,"v":0.13},{"s":"oZ","f":3579.1,"v":0.08},{"s":"oZ","f":3584.9,"v":-0.07},{"s":"oZ","f":3590.7,"v":-0.22},{"s":"oZ","f":3595.1,"v":-0.04},{"s":"oZ","f":3598,"v":0.0},{"s":"oZ","f":3600.1,"v":0.45},{"s":"oZ","f":3601.6,"v":0.57},{"s":"oZ","f":3603.8,"v":0.25},{"s":"oZ","f":3606,"v":0.0},{"s":"oZ","f":3608.9,"v":0.15},{"s":"oZ","f":3611.8,"v":0.28},{"s":"oZ","f":3614.7,"v":0.15},{"s":"oZ","f":3617.6,"v":0.20},{"s":"oZ","f":3620.5,"v":0.35},{"s":"oZ","f":3623.4,"v":0.25},{"s":"oZ","f":3627,"v":0.20},{"s":"oZ","f":3630.6,"v":0.28},{"s":"oZ","f":3634.3,"v":0.28},{"s":"oZ","f":3638.6,"v":0.15},{"s":"oZ","f":3644.4,"v":0.13},{"s":"oZ","f":3651.7,"v":0.13},{"s":"oZ","f":3658.9,"v":0.15},{"s":"oZ","f":3666.2,"v":0.13},{"s":"oZ","f":3673.4,"v":0.10},{"s":"oZ","f":3680.7,"v":0.05},{"s":"oZ","f":3688,"v":0.05},{"s":"oZ","f":3695.2,"v":0.08},{"s":"oZ","f":3702.5,"v":0.05},{"s":"oZ","f":3709.7,"v":0.0},{"s":"oZ","f":3715.5,"v":-0.02},{"s":"oZ","f":3721.3,"v":0.0},{"s":"oZ","f":3724.9,"v":-0.12},{"s":"oZ","f":3727.9,"v":-0.24},{"s":"oZ","f":3730,"v":0.0},{"s":"oZ","f":3732.9,"v":0.10},{"s":"oZ","f":3735.8,"v":0.30},{"s":"oZ","f":3739.5,"v":0.37},{"s":"oZ","f":3743.1,"v":0.47},{"s":"oZ","f":3747.5,"v":0.62},{"s":"oZ","f":3751.8,"v":0.65},{"s":"oZ","f":3756.2,"v":0.62},{"s":"oZ","f":3760.5,"v":0.67},{"s":"oZ","f":3764.9,"v":0.62},{"s":"oZ","f":3767.8,"v":0.50},{"s":"oZ","f":3771,"v":0.35}
    ],
    "kam": [
      {"g":1,"f":2919.9,"k":0.0073},{"g":1,"f":2922,"k":0.0005},{"g":1,"f":2946.9,"k":0.0005},{"g":1,"f":2974.6,"k":0.001},{"g":1,"f":2977.3,"k":0.003},{"g":1,"f":2981.5,"k":0.007},{"g":1,"f":2984.2,"k":0.009},{"g":1,"f":2987,"k":0.022},{"g":1,"f":2989.8,"k":0.036},{"g":1,"f":2991.7,"k":0.048},{"g":1,"f":2993.4,"k":0.064},{"g":1,"f":2996.1,"k":0.084},{"g":1,"f":2998.1,"k":0.114},{"g":1,"f":3000,"k":0.134},{"g":1,"f":3001.7,"k":0.168},{"g":1,"f":3002.8,"k":0.144},{"g":1,"f":3004.1,"k":0.193},{"g":1,"f":3005.8,"k":0.206},{"g":1,"f":3007.7,"k":0.2},{"g":1,"f":3009.1,"k":0.193},{"g":1,"f":3010.5,"k":0.206},{"g":1,"f":3012.7,"k":0.217},{"g":1,"f":3014.1,"k":0.244},{"g":1,"f":3015.2,"k":0.23},{"g":1,"f":3016.6,"k":0.244},{"g":1,"f":3018,"k":0.27},{"g":1,"f":3020.2,"k":0.267},{"g":1,"f":3022.1,"k":0.289},{"g":1,"f":3023.5,"k":0.279},{"g":1,"f":3025.7,"k":0.29},{"g":1,"f":3027.1,"k":0.299},{"g":1,"f":3029,"k":0.287},{"g":1,"f":3030.4,"k":0.299},{"g":1,"f":3032.1,"k":0.286},{"g":1,"f":3033.5,"k":0.301},{"g":1,"f":3034.8,"k":0.312},{"g":1,"f":3036.5,"k":0.295},{"g":1,"f":3038.2,"k":0.309},{"g":1,"f":3039.8,"k":0.293},{"g":1,"f":3041.5,"k":0.299},{"g":1,"f":3043.1,"k":0.298},{"g":1,"f":3044.5,"k":0.287},{"g":1,"f":3046.4,"k":0.279},{"g":1,"f":3048.1,"k":0.263},{"g":1,"f":3049.2,"k":0.268},{"g":1,"f":3050.9,"k":0.252},{"g":1,"f":3052.5,"k":0.247},{"g":1,"f":3054.2,"k":0.237},{"g":1,"f":3056.1,"k":0.228},{"g":1,"f":3057.5,"k":0.22},{"g":1,"f":3059.4,"k":0.217},{"g":1,"f":3060.8,"k":0.206},{"g":1,"f":3062.5,"k":0.2},{"g":1,"f":3064.4,"k":0.193},{"g":1,"f":3066.4,"k":0.187},{"g":1,"f":3068.6,"k":0.184},{"g":1,"f":3070.8,"k":0.182},{"g":1,"f":3072.7,"k":0.176},{"g":1,"f":3074.6,"k":0.171},{"g":1,"f":3076.9,"k":0.155},{"g":1,"f":3079.6,"k":0.152},{"g":1,"f":3082.4,"k":0.149},{"g":1,"f":3083.8,"k":0.144},{"g":1,"f":3085.7,"k":0.133},{"g":1,"f":3087.9,"k":0.128},{"g":1,"f":3090.1,"k":0.122},{"g":1,"f":3092.1,"k":0.114},{"g":1,"f":3094,"k":0.111},{"g":1,"f":3096.2,"k":0.113},{"g":1,"f":3098.4,"k":0.114},{"g":1,"f":3100.4,"k":0.106},{"g":1,"f":3102.3,"k":0.095},{"g":1,"f":3104.5,"k":0.084},{"g":1,"f":3107.3,"k":0.09},{"g":1,"f":3109.5,"k":0.095},{"g":1,"f":3111.4,"k":0.092},{"g":1,"f":3112.8,"k":0.109},{"g":1,"f":3113.9,"k":0.138},{"g":1,"f":3115,"k":0.095},{"g":1,"f":3116.1,"k":0.122},{"g":1,"f":3117.2,"k":0.095},{"g":1,"f":3118.3,"k":0.092},{"g":1,"f":3119.7,"k":0.06},{"g":1,"f":3121.6,"k":0.047},{"g":1,"f":3123.9,"k":0.034},{"g":1,"f":3126.1,"k":0.025},{"g":1,"f":3128,"k":0.019},{"g":1,"f":3130.8,"k":0.015},{"g":1,"f":3133.5,"k":0.014},{"g":1,"f":3137.7,"k":0.015},{"g":1,"f":3141.8,"k":0.017},{"g":1,"f":3146,"k":0.02},{"g":1,"f":3150.1,"k":0.022},{"g":1,"f":3152.9,"k":0.025},{"g":1,"f":3155.7,"k":0.022},{"g":1,"f":3158.4,"k":0.015},{"g":1,"f":3161.2,"k":0.01},{"g":1,"f":3163.9,"k":0.006},{"g":1,"f":3168.1,"k":0.002},{"g":1,"f":3171.4,"k":0.001},{"g":1,"f":3173.1,"k":0.007},{"g":1,"f":3175,"k":0.009},
      {"g":2,"f":3153.7,"k":0.006},{"g":2,"f":3155.7,"k":0.0005},{"g":2,"f":3168.1,"k":0.0005},{"g":2,"f":3195.7,"k":0.001},{"g":2,"f":3201.3,"k":0.003},{"g":2,"f":3204,"k":0.009},{"g":2,"f":3206.8,"k":0.019},{"g":2,"f":3208.2,"k":0.038},{"g":2,"f":3209.6,"k":0.068},{"g":2,"f":3210.9,"k":0.114},{"g":2,"f":3212.9,"k":0.155},{"g":2,"f":3214.5,"k":0.187},{"g":2,"f":3215.9,"k":0.19},{"g":2,"f":3217.3,"k":0.209},{"g":2,"f":3219.2,"k":0.233},{"g":2,"f":3220.6,"k":0.238},{"g":2,"f":3222,"k":0.268},{"g":2,"f":3223.4,"k":0.312},{"g":2,"f":3224.2,"k":0.306},{"g":2,"f":3225.6,"k":0.32},{"g":2,"f":3227,"k":0.322},{"g":2,"f":3228.4,"k":0.347},{"g":2,"f":3229.5,"k":0.357},{"g":2,"f":3230.9,"k":0.363},{"g":2,"f":3232.2,"k":0.357},{"g":2,"f":3233.3,"k":0.371},{"g":2,"f":3234.4,"k":0.365},{"g":2,"f":3235.8,"k":0.38},{"g":2,"f":3237.2,"k":0.371},{"g":2,"f":3238.6,"k":0.368},{"g":2,"f":3240,"k":0.36},{"g":2,"f":3241.4,"k":0.353},{"g":2,"f":3242.7,"k":0.357},{"g":2,"f":3244.1,"k":0.36},{"g":2,"f":3245.5,"k":0.344},{"g":2,"f":3246.9,"k":0.353},{"g":2,"f":3248.3,"k":0.343},{"g":2,"f":3249.7,"k":0.33},{"g":2,"f":3251,"k":0.339},{"g":2,"f":3253.8,"k":0.33},{"g":2,"f":3255.2,"k":0.322},{"g":2,"f":3256.6,"k":0.312},{"g":2,"f":3257.9,"k":0.295},{"g":2,"f":3259.9,"k":0.284},{"g":2,"f":3262.1,"k":0.268},{"g":2,"f":3263.5,"k":0.252},{"g":2,"f":3264.9,"k":0.241},{"g":2,"f":3266.2,"k":0.23},{"g":2,"f":3268.2,"k":0.222},{"g":2,"f":3270.4,"k":0.214},{"g":2,"f":3272.6,"k":0.211},{"g":2,"f":3274.5,"k":0.206},{"g":2,"f":3276.5,"k":0.2},{"g":2,"f":3278.7,"k":0.198},{"g":2,"f":3280.1,"k":0.187},{"g":2,"f":3282,"k":0.171},{"g":2,"f":3283.7,"k":0.16},{"g":2,"f":3285.6,"k":0.155},{"g":2,"f":3287,"k":0.144},{"g":2,"f":3288.4,"k":0.133},{"g":2,"f":3289.7,"k":0.12},{"g":2,"f":3291.1,"k":0.111},{"g":2,"f":3292.5,"k":0.105},{"g":2,"f":3293.9,"k":0.087},{"g":2,"f":3295.8,"k":0.076},{"g":2,"f":3297.5,"k":0.06},{"g":2,"f":3299.4,"k":0.052},{"g":2,"f":3300.8,"k":0.057},{"g":2,"f":3302.5,"k":0.041},{"g":2,"f":3304.9,"k":0.036},{"g":2,"f":3307.7,"k":0.038},{"g":2,"f":3309.6,"k":0.032},{"g":2,"f":3311.9,"k":0.029},{"g":2,"f":3314.6,"k":0.03},{"g":2,"f":3317.4,"k":0.026},{"g":2,"f":3319.6,"k":0.025},{"g":2,"f":3321.5,"k":0.014},{"g":2,"f":3324.3,"k":0.01},{"g":2,"f":3328.5,"k":0.008},{"g":2,"f":3334,"k":0.007},{"g":2,"f":3339.5,"k":0.006},{"g":2,"f":3346.4,"k":0.007},{"g":2,"f":3352.8,"k":0.009},{"g":2,"f":3355.2,"k":0.011},{"g":2,"f":3358,"k":0.017},{"g":2,"f":3360.8,"k":0.019},{"g":2,"f":3363.6,"k":0.025},{"g":2,"f":3366.4,"k":0.028},{"g":2,"f":3369.2,"k":0.025},{"g":2,"f":3372,"k":0.028},{"g":2,"f":3374.8,"k":0.026},{"g":2,"f":3377.6,"k":0.029},{"g":2,"f":3380.4,"k":0.034},{"g":2,"f":3383.2,"k":0.038},{"g":2,"f":3386,"k":0.04},{"g":2,"f":3388.8,"k":0.047},{"g":2,"f":3390.2,"k":0.038},{"g":2,"f":3393,"k":0.033},{"g":2,"f":3395.8,"k":0.025},{"g":2,"f":3398.6,"k":0.017},{"g":2,"f":3401.4,"k":0.009},{"g":2,"f":3404.2,"k":0.009},{"g":2,"f":3406.2,"k":0.014},{"g":2,"f":3407.6,"k":0.032},{"g":2,"f":3409.2,"k":0.025},
      {"g":3,"f":3355.2,"k":0.001},{"g":3,"f":3370.6,"k":0.0005},{"g":3,"f":3393,"k":0.001},{"g":3,"f":3398.6,"k":0.003},{"g":3,"f":3401.4,"k":0.007},{"g":3,"f":3404.2,"k":0.014},{"g":3,"f":3405.6,"k":0.041},{"g":3,"f":3407,"k":0.063},{"g":3,"f":3408.4,"k":0.114},{"g":3,"f":3409.8,"k":0.163},{"g":3,"f":3411.2,"k":0.198},{"g":3,"f":3412.6,"k":0.203},{"g":3,"f":3414,"k":0.209},{"g":3,"f":3414.8,"k":0.23},{"g":3,"f":3416,"k":0.206},{"g":3,"f":3417.1,"k":0.217},{"g":3,"f":3418.2,"k":0.22},{"g":3,"f":3419.6,"k":0.252},{"g":3,"f":3421,"k":0.26},{"g":3,"f":3421.8,"k":0.312},{"g":3,"f":3423,"k":0.279},{"g":3,"f":3424.1,"k":0.317},{"g":3,"f":3425.2,"k":0.293},{"g":3,"f":3426.6,"k":0.291},{"g":3,"f":3428,"k":0.293},{"g":3,"f":3429.4,"k":0.306},{"g":3,"f":3430.8,"k":0.297},{"g":3,"f":3432.2,"k":0.32},{"g":3,"f":3433.6,"k":0.306},{"g":3,"f":3435,"k":0.317},{"g":3,"f":3436.4,"k":0.32},{"g":3,"f":3437.8,"k":0.324},{"g":3,"f":3439.2,"k":0.306},{"g":3,"f":3440.6,"k":0.309},{"g":3,"f":3442,"k":0.287},{"g":3,"f":3443.4,"k":0.295},{"g":3,"f":3444.8,"k":0.301},{"g":3,"f":3446.8,"k":0.287},{"g":3,"f":3448.2,"k":0.314},{"g":3,"f":3449.6,"k":0.298},{"g":3,"f":3451.3,"k":0.303},{"g":3,"f":3453.2,"k":0.299},{"g":3,"f":3454.6,"k":0.284},{"g":3,"f":3456,"k":0.29},{"g":3,"f":3457.4,"k":0.276},{"g":3,"f":3459.7,"k":0.271},{"g":3,"f":3461.6,"k":0.265},{"g":3,"f":3463.6,"k":0.257},{"g":3,"f":3465.8,"k":0.255},{"g":3,"f":3467.8,"k":0.244},{"g":3,"f":3470,"k":0.236},{"g":3,"f":3472,"k":0.228},{"g":3,"f":3474.2,"k":0.222},{"g":3,"f":3476.5,"k":0.214},{"g":3,"f":3478.4,"k":0.201},{"g":3,"f":3480.4,"k":0.187},{"g":3,"f":3482.6,"k":0.174},{"g":3,"f":3484.9,"k":0.163},{"g":3,"f":3486.8,"k":0.157},{"g":3,"f":3488.2,"k":0.144},{"g":3,"f":3490.2,"k":0.133},{"g":3,"f":3492.4,"k":0.12},{"g":3,"f":3493.8,"k":0.101},{"g":3,"f":3495.8,"k":0.087},{"g":3,"f":3498,"k":0.071},{"g":3,"f":3500,"k":0.06},{"g":3,"f":3502.2,"k":0.047},{"g":3,"f":3504.5,"k":0.041},{"g":3,"f":3506.4,"k":0.036},{"g":3,"f":3508.4,"k":0.033},{"g":3,"f":3510.6,"k":0.025},{"g":3,"f":3513.4,"k":0.022},{"g":3,"f":3516.2,"k":0.017},{"g":3,"f":3519,"k":0.009},{"g":3,"f":3521.8,"k":0.005},{"g":3,"f":3527.5,"k":0.004},{"g":3,"f":3538.7,"k":0.002},{"g":3,"f":3549.9,"k":0.003},{"g":3,"f":3555.5,"k":0.005},{"g":3,"f":3558.3,"k":0.009},{"g":3,"f":3561.1,"k":0.006},{"g":3,"f":3566.7,"k":0.006},{"g":3,"f":3572.3,"k":0.008},{"g":3,"f":3577.9,"k":0.009},{"g":3,"f":3583.5,"k":0.011},{"g":3,"f":3589.1,"k":0.015},{"g":3,"f":3593.3,"k":0.013},{"g":3,"f":3597.5,"k":0.009},{"g":3,"f":3601.7,"k":0.005},{"g":3,"f":3605.9,"k":0.003},
      {"g":4,"f":3559.7,"k":0.002},{"g":4,"f":3566.7,"k":0.0005},{"g":4,"f":3594.7,"k":0.0005},{"g":4,"f":3603.1,"k":0.001},{"g":4,"f":3605.9,"k":0.003},{"g":4,"f":3608.1,"k":0.017},{"g":4,"f":3610.1,"k":0.028},{"g":4,"f":3612,"k":0.036},{"g":4,"f":3613.7,"k":0.06},{"g":4,"f":3614.8,"k":0.068},{"g":4,"f":3616.5,"k":0.111},{"g":4,"f":3617.6,"k":0.149},{"g":4,"f":3618.5,"k":0.155},{"g":4,"f":3619.3,"k":0.182},{"g":4,"f":3620.4,"k":0.176},{"g":4,"f":3621.6,"k":0.195},{"g":4,"f":3622.7,"k":0.184},{"g":4,"f":3623.5,"k":0.214},{"g":4,"f":3624.9,"k":0.198},{"g":4,"f":3626.1,"k":0.209},{"g":4,"f":3627.2,"k":0.214},{"g":4,"f":3628.3,"k":0.23},{"g":4,"f":3629.7,"k":0.238},{"g":4,"f":3631.1,"k":0.241},{"g":4,"f":3632.5,"k":0.238},{"g":4,"f":3633.9,"k":0.249},{"g":4,"f":3635.3,"k":0.26},{"g":4,"f":3636.7,"k":0.268},{"g":4,"f":3638.1,"k":0.271},{"g":4,"f":3639.5,"k":0.276},{"g":4,"f":3640.9,"k":0.29},{"g":4,"f":3642.3,"k":0.287},{"g":4,"f":3643.7,"k":0.29},{"g":4,"f":3645.1,"k":0.279},{"g":4,"f":3646.5,"k":0.263},{"g":4,"f":3647.9,"k":0.268},{"g":4,"f":3649.3,"k":0.276},{"g":4,"f":3650.7,"k":0.271},{"g":4,"f":3652.1,"k":0.268},{"g":4,"f":3652.9,"k":0.284},{"g":4,"f":3654.3,"k":0.273},{"g":4,"f":3655.7,"k":0.265},{"g":4,"f":3657.1,"k":0.276},{"g":4,"f":3658.5,"k":0.26},{"g":4,"f":3659.9,"k":0.258},{"g":4,"f":3661.9,"k":0.249},{"g":4,"f":3663.3,"k":0.241},{"g":4,"f":3664.7,"k":0.244},{"g":4,"f":3666.1,"k":0.23},{"g":4,"f":3667.5,"k":0.228},{"g":4,"f":3668.9,"k":0.222},{"g":4,"f":3670.3,"k":0.214},{"g":4,"f":3671.7,"k":0.211},{"g":4,"f":3673.1,"k":0.209},{"g":4,"f":3674.5,"k":0.198},{"g":4,"f":3675.9,"k":0.192},{"g":4,"f":3677.3,"k":0.187},{"g":4,"f":3678.7,"k":0.195},{"g":4,"f":3680.1,"k":0.179},{"g":4,"f":3681.5,"k":0.176},{"g":4,"f":3682.9,"k":0.176},{"g":4,"f":3684.3,"k":0.152},{"g":4,"f":3685.7,"k":0.152},{"g":4,"f":3687.1,"k":0.144},{"g":4,"f":3688.5,"k":0.133},{"g":4,"f":3689.9,"k":0.131},{"g":4,"f":3691.3,"k":0.122},{"g":4,"f":3692.7,"k":0.12},{"g":4,"f":3694.1,"k":0.117},{"g":4,"f":3695.5,"k":0.114},{"g":4,"f":3696.9,"k":0.114},{"g":4,"f":3698.3,"k":0.111},{"g":4,"f":3699.7,"k":0.115},{"g":4,"f":3701.1,"k":0.111},{"g":4,"f":3702.5,"k":0.109},{"g":4,"f":3703.9,"k":0.106},{"g":4,"f":3705.3,"k":0.114},{"g":4,"f":3706.7,"k":0.122},{"g":4,"f":3708.1,"k":0.128},{"g":4,"f":3709.5,"k":0.133},{"g":4,"f":3710.9,"k":0.131},{"g":4,"f":3712.3,"k":0.136},{"g":4,"f":3713.1,"k":0.14},{"g":4,"f":3714.5,"k":0.131},{"g":4,"f":3715.9,"k":0.132},{"g":4,"f":3717.4,"k":0.125},{"g":4,"f":3718.8,"k":0.114},{"g":4,"f":3720.2,"k":0.109},{"g":4,"f":3721.3,"k":0.103},{"g":4,"f":3723,"k":0.084},{"g":4,"f":3725,"k":0.063},{"g":4,"f":3726.3,"k":0.041},{"g":4,"f":3727.7,"k":0.036},{"g":4,"f":3729.1,"k":0.028},{"g":4,"f":3730.5,"k":0.022},{"g":4,"f":3731.9,"k":0.015},{"g":4,"f":3734.7,"k":0.01},{"g":4,"f":3737.5,"k":0.007},{"g":4,"f":3740.3,"k":0.006},{"g":4,"f":3745.9,"k":0.008},{"g":4,"f":3751.5,"k":0.01},{"g":4,"f":3757.1,"k":0.014},{"g":4,"f":3761.3,"k":0.018},{"g":4,"f":3765.5,"k":0.025},{"g":4,"f":3768.3,"k":0.029},{"g":4,"f":3770.6,"k":0.034}
    ]
  },
  "resolve": {"scale": {"color": "independent", "strokeDash": "independent"}},
  "spacing": 33,
  "vconcat": [
    {
      "resolve": {"scale": {"color": "independent", "strokeDash": "independent"}},
      "bounds": "flush",
      "spacing": 0,
      "hconcat": [
        {"width": 117, "height": 10, "view": {"stroke": null}, "data": {"values": [{"z": 0}]}, "mark": {"type": "point", "opacity": 0}, "encoding": {}},
        {
          "resolve": {"scale": {"color": "independent", "strokeDash": "independent"}},
          "spacing": 458,
          "hconcat": [
            {
              "width": 1369, "height": 877,
              "data": {"name": "a"},
              "title": {"text": "(a)", "orient": "bottom", "frame": "bounds", "anchor": "middle", "offset": 54},
              "mark": {"type": "line", "strokeWidth": 5.2, "clip": true},
              "encoding": {
                "x": {"field": "t", "type": "quantitative", "scale": {"domain": [0, 1.2718], "nice": false, "zero": false},
                  "axis": {"values": [0, 0.25, 0.5, 0.75, 1, 1.25], "format": ".2f", "title": "Time (s)", "titleFontSize": 47, "titleY": 121, "titleBaseline": "middle", "labelFontSize": 40, "tickSize": 13, "tickWidth": 2.8, "labelPadding": 15, "gridDash": [6.5, 4.7], "gridColor": "#c8c8c8", "gridWidth": 1.9}},
                "y": {"field": "k", "type": "quantitative", "scale": {"domain": [-0.0094, 0.3737], "nice": false, "zero": false},
                  "axis": {"values": [0, 0.1, 0.2, 0.3], "format": ".1f", "title": "KAM", "titleFontSize": 54, "titleX": -158, "titleBaseline": "middle", "labelFontSize": 40, "tickSize": 14, "tickWidth": 2.8, "labelPadding": 20.6, "gridDash": [6.5, 4.7], "gridColor": "#c8c8c8", "gridWidth": 1.9}},
                "color": {"field": "s", "type": "nominal", "scale": {"domain": ["Measured KAM", "Predicted KAM"], "range": ["#1f5cb4", "#ff7b11"]},
                  "legend": {"orient": "none", "legendX": 886, "legendY": 30.6, "title": null, "labelFontSize": 41, "labelLimit": 1000, "labelFont": "DejaVu Sans", "labelColor": "black", "symbolType": "M-1,0H3", "symbolSize": 1892, "symbolStrokeWidth": 5.2, "labelOffset": 74, "rowPadding": 22, "padding": 16, "strokeColor": "#cccccc", "fillColor": "white", "cornerRadius": 9}},
                "strokeDash": {"field": "s", "type": "nominal", "scale": {"domain": ["Measured KAM", "Predicted KAM"], "range": [[1, 0], [22.5, 10.3]]},
                  "legend": {"orient": "none", "legendX": 886, "legendY": 30.6, "title": null, "labelFontSize": 41, "labelLimit": 1000, "labelFont": "DejaVu Sans", "labelColor": "black", "symbolType": "M-1,0H3", "symbolSize": 1892, "symbolStrokeWidth": 5.2, "labelOffset": 74, "rowPadding": 22, "padding": 16, "strokeColor": "#cccccc", "fillColor": "white", "cornerRadius": 9}}
              }
            },
            {
              "width": 1330, "height": 870,
              "data": {"name": "b"},
              "title": {"text": "(b)", "orient": "bottom", "frame": "bounds", "anchor": "middle", "offset": 48},
              "mark": {"type": "line", "strokeWidth": 4.7, "clip": true},
              "encoding": {
                "x": {"field": "t", "type": "quantitative", "scale": {"domain": [-0.0664, 1.2813], "nice": false, "zero": false},
                  "axis": {"values": [0, 0.25, 0.5, 0.75, 1, 1.25], "format": ".2f", "title": "Time (s)", "titleFontSize": 57, "titleY": 129, "titleBaseline": "middle", "labelFontSize": 47, "tickSize": 14, "tickWidth": 2.8, "labelPadding": 12.2, "gridDash": [6.5, 4.7], "gridColor": "#c8c8c8", "gridWidth": 1.9}},
                "y": {"field": "k", "type": "quantitative", "scale": {"domain": [-0.0132, 0.2716], "nice": false, "zero": false},
                  "axis": {"values": [0, 0.05, 0.1, 0.15, 0.2, 0.25], "format": ".2f", "title": "KAM", "titleFontSize": 59, "titleX": -196, "titleBaseline": "middle", "labelFontSize": 47, "tickSize": 14, "tickWidth": 2.8, "labelPadding": 16.9, "gridDash": [6.5, 4.7], "gridColor": "#c8c8c8", "gridWidth": 1.9}},
                "color": {"field": "s", "type": "nominal", "scale": {"domain": ["Measured KAM", "Predicted KAM"], "range": ["#1a73c3", "#ff7f0e"]}, "legend": null},
                "strokeDash": {"field": "s", "type": "nominal", "scale": {"domain": ["Measured KAM", "Predicted KAM"], "range": [[1, 0], [20.6, 9.4]]}, "legend": null}
              }
            }
          ]
        }
      ]
    },
    {
      "resolve": {"scale": {"color": "independent"}},
      "spacing": 19,
      "vconcat": [
        {
          "width": 3859, "height": 856,
          "view": {"stroke": "#222222", "strokeWidth": 3.75},
          "layer": [
            {
              "data": {"name": "bands"},
              "mark": {"type": "rect", "color": "#f7a3ba", "opacity": 0.28},
              "encoding": {
                "x": {"field": "b0", "type": "quantitative", "scale": {"domain": [2919.9, 3771], "nice": false, "zero": false},
                  "axis": {"values": [3000, 3100, 3200, 3300, 3400, 3500, 3600, 3700], "labels": false, "title": null, "tickSize": 13, "tickWidth": 2.3, "gridColor": "#d6d6d6", "gridWidth": 1.9}},
                "x2": {"field": "b1"}
              }
            },
            {
              "data": {"name": "sig"},
              "mark": {"type": "line", "strokeWidth": 4.2, "clip": true},
              "encoding": {
                "x": {"field": "f", "type": "quantitative", "scale": {"domain": [2919.9, 3771], "nice": false, "zero": false},
                  "axis": {"values": [3000, 3100, 3200, 3300, 3400, 3500, 3600, 3700], "labels": false, "title": null, "tickSize": 13, "tickWidth": 2.3, "gridColor": "#d6d6d6", "gridWidth": 1.9}},
                "y": {"field": "v", "type": "quantitative", "scale": {"domain": [-3.434, 4.078], "nice": false, "zero": false},
                  "axis": {"values": [-3, -2, -1, 0, 1, 2, 3, 4], "format": "d", "title": "Signal", "titleFontSize": 34, "titleX": -108, "titleBaseline": "middle", "labelFontSize": 34, "tickSize": 13, "tickWidth": 2.3, "labelPadding": 13, "gridColor": "#e3e3e3", "gridWidth": 4.2}},
                "color": {"field": "s", "type": "nominal", "scale": {"domain": ["dX", "dY", "dZ", "oX", "oY", "oZ"], "range": ["#1f88c4", "#ff8c1a", "#19a22f", "#fb3444", "#a77ccc", "#a66b60"]},
                  "legend": {"orient": "none", "legendX": 20, "legendY": 16, "title": null, "labelFontSize": 35, "labelLimit": 1000, "labelFont": "DejaVu Sans", "labelColor": "black", "symbolType": "M-1,0H3", "symbolSize": 1661, "symbolStrokeWidth": 5.2, "labelOffset": 62, "rowPadding": 14, "padding": 11, "strokeColor": "#cccccc", "fillColor": "white", "cornerRadius": 8}}
              }
            }
          ]
        },
        {
          "width": 3859, "height": 856,
          "view": {"stroke": "#222222", "strokeWidth": 3.75},
          "data": {"name": "kam"},
          "title": {"text": "(c)", "orient": "bottom", "frame": "bounds", "anchor": "middle", "offset": 55, "dx": -35},
          "mark": {"type": "line", "strokeWidth": 4.2, "color": "#1a86c0", "clip": true},
          "encoding": {
            "x": {"field": "f", "type": "quantitative", "scale": {"domain": [2919.9, 3771], "nice": false, "zero": false},
              "axis": {"values": [3000, 3100, 3200, 3300, 3400, 3500, 3600, 3700], "format": "d", "title": "Frame", "titleFontSize": 34, "titleY": 96, "titleBaseline": "middle", "labelFontSize": 34, "tickSize": 13, "tickWidth": 2.3, "labelPadding": 18.7, "gridColor": "#d6d6d6", "gridWidth": 1.9}},
            "y": {"field": "k", "type": "quantitative", "scale": {"domain": [-0.0177, 0.3989], "nice": false, "zero": false},
              "axis": {"values": [0, 0.05, 0.1, 0.15, 0.2, 0.25, 0.3, 0.35], "format": ".2f", "title": "Predicted KAM", "titleFontSize": 34, "titleX": -142, "titleBaseline": "middle", "labelFontSize": 34, "tickSize": 13, "tickWidth": 2.3, "labelPadding": 13, "gridColor": "#e3e3e3", "gridWidth": 4.2}},
            "detail": {"field": "g", "type": "nominal"}
          }
        }
      ]
    }
  ]
}
